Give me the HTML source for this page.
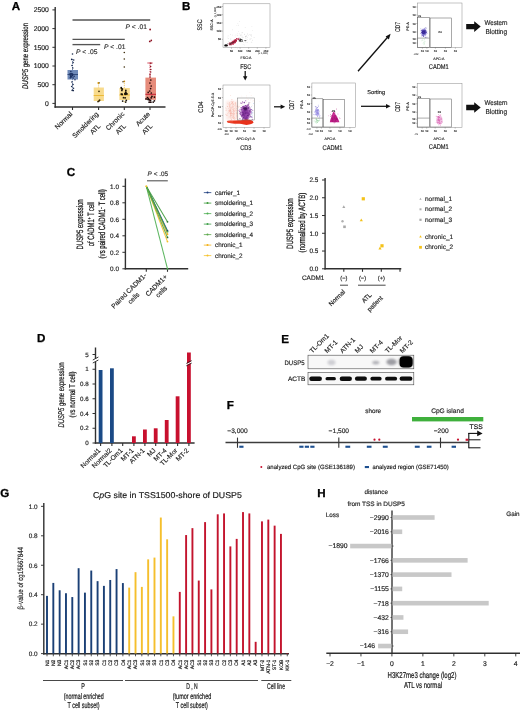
<!DOCTYPE html>
<html><head><meta charset="utf-8"><title>Figure</title>
<style>
html,body{margin:0;padding:0;background:#fff;}
body{width:520px;height:710px;overflow:hidden;font-family:"Liberation Sans",sans-serif;}
svg{display:block;font-family:"Liberation Sans",sans-serif;will-change:transform;text-rendering:geometricPrecision;}
</style></head><body>
<svg width="520" height="710" viewBox="0 0 520 710">
<defs>
<filter id="b1" x="-30%" y="-30%" width="160%" height="160%"><feGaussianBlur stdDeviation="0.55"/></filter>
<filter id="b2" x="-30%" y="-30%" width="160%" height="160%"><feGaussianBlur stdDeviation="1"/></filter>
<filter id="b3" x="-30%" y="-30%" width="160%" height="160%"><feGaussianBlur stdDeviation="0.3"/></filter>
</defs>
<rect x="0" y="0" width="520" height="710" fill="#ffffff"/>
<g id="panelA">
<text x="11.8" y="10.4" font-size="11.6" fill="#000" font-weight="bold" stroke="#000" stroke-width="0.3">A</text>
<line x1="55.2" y1="7" x2="55.2" y2="107.7" stroke="#303030" stroke-width="1.4" />
<line x1="54.5" y1="107" x2="165.5" y2="107" stroke="#303030" stroke-width="1.4" />
<line x1="52.4" y1="103.4" x2="55.2" y2="103.4" stroke="#303030" stroke-width="1.0" />
<text x="48.8" y="105.83" font-size="6.8" fill="#1b1b1b" text-anchor="end" stroke="#1b1b1b" stroke-width="0.16" >0</text>
<line x1="52.4" y1="84.7" x2="55.2" y2="84.7" stroke="#303030" stroke-width="1.0" />
<text x="48.8" y="87.13" font-size="6.8" fill="#1b1b1b" text-anchor="end" stroke="#1b1b1b" stroke-width="0.16" >500</text>
<line x1="52.4" y1="66.0" x2="55.2" y2="66.0" stroke="#303030" stroke-width="1.0" />
<text x="48.8" y="68.43" font-size="6.8" fill="#1b1b1b" text-anchor="end" stroke="#1b1b1b" stroke-width="0.16" >1000</text>
<line x1="52.4" y1="47.3" x2="55.2" y2="47.3" stroke="#303030" stroke-width="1.0" />
<text x="48.8" y="49.73" font-size="6.8" fill="#1b1b1b" text-anchor="end" stroke="#1b1b1b" stroke-width="0.16" >1500</text>
<line x1="52.4" y1="28.6" x2="55.2" y2="28.6" stroke="#303030" stroke-width="1.0" />
<text x="48.8" y="31.03" font-size="6.8" fill="#1b1b1b" text-anchor="end" stroke="#1b1b1b" stroke-width="0.16" >2000</text>
<line x1="52.4" y1="9.9" x2="55.2" y2="9.9" stroke="#303030" stroke-width="1.0" />
<text x="48.8" y="12.33" font-size="6.8" fill="#1b1b1b" text-anchor="end" stroke="#1b1b1b" stroke-width="0.16" >2500</text>
<line x1="72.5" y1="107" x2="72.5" y2="110" stroke="#303030" stroke-width="1.1" />
<line x1="98.6" y1="107" x2="98.6" y2="110" stroke="#303030" stroke-width="1.1" />
<line x1="124.3" y1="107" x2="124.3" y2="110" stroke="#303030" stroke-width="1.1" />
<line x1="150.0" y1="107" x2="150.0" y2="110" stroke="#303030" stroke-width="1.1" />
<text font-size="8.2" fill="#1a1a1a" textLength="66" lengthAdjust="spacingAndGlyphs" transform="translate(28.2,89) rotate(-90)" stroke="#1a1a1a" stroke-width="0.22"><tspan font-style="italic">DUSP5</tspan> gene expression</text>
<line x1="72.5" y1="20" x2="150.2" y2="20" stroke="#555555" stroke-width="1.35" />
<line x1="72.5" y1="39.3" x2="124.8" y2="39.3" stroke="#555555" stroke-width="1.35" />
<line x1="72.5" y1="44.6" x2="100.2" y2="44.6" stroke="#555555" stroke-width="1.35" />
<text x="76" y="54.4" font-size="6.7" fill="#303030" stroke="#303030" stroke-width="0.16" ><tspan font-style="italic">P</tspan> &lt; .05</text>
<text x="104" y="48.6" font-size="6.7" fill="#303030" stroke="#303030" stroke-width="0.16" ><tspan font-style="italic">P</tspan> &lt; .01</text>
<text x="125.5" y="29.2" font-size="6.7" fill="#303030" stroke="#303030" stroke-width="0.16" ><tspan font-style="italic">P</tspan> &lt; .01</text>
<line x1="72.5" y1="59" x2="72.5" y2="90.5" stroke="#3b5488" stroke-width="0.7" stroke-dasharray="1.2 0.8"/>
<rect x="67.5" y="70" width="10.5" height="9.5" fill="#5f7db0" opacity="0.9"/>
<line x1="67.5" y1="74.5" x2="78" y2="74.5" stroke="#2b4474" stroke-width="0.9" />
<circle cx="71.58" cy="77.00" r="0.8" fill="#1c3060" />
<circle cx="70.28" cy="77.86" r="0.8" fill="#1c3060" />
<circle cx="72.69" cy="74.20" r="0.8" fill="#1c3060" />
<circle cx="72.54" cy="75.47" r="0.8" fill="#1c3060" />
<circle cx="70.09" cy="73.90" r="0.8" fill="#1c3060" />
<circle cx="70.37" cy="75.20" r="0.8" fill="#1c3060" />
<circle cx="72.11" cy="75.42" r="0.8" fill="#1c3060" />
<circle cx="71.06" cy="73.62" r="0.8" fill="#1c3060" />
<circle cx="73.16" cy="78.03" r="0.8" fill="#1c3060" />
<circle cx="71.96" cy="73.70" r="0.8" fill="#1c3060" />
<circle cx="74.98" cy="79.72" r="0.8" fill="#1c3060" />
<circle cx="71.41" cy="76.28" r="0.8" fill="#1c3060" />
<circle cx="70.65" cy="76.45" r="0.8" fill="#1c3060" />
<circle cx="74.14" cy="76.31" r="0.8" fill="#1c3060" />
<circle cx="70.84" cy="71.57" r="0.8" fill="#1c3060" />
<circle cx="72.50" cy="54.00" r="0.8" fill="#18284a" />
<circle cx="71.70" cy="59.40" r="0.8" fill="#18284a" />
<circle cx="73.70" cy="60.00" r="0.8" fill="#18284a" />
<circle cx="73.10" cy="62.60" r="0.8" fill="#18284a" />
<circle cx="72.00" cy="65.50" r="0.8" fill="#18284a" />
<circle cx="72.80" cy="68.00" r="0.8" fill="#18284a" />
<circle cx="71.90" cy="82.00" r="0.8" fill="#18284a" />
<circle cx="73.00" cy="84.50" r="0.8" fill="#18284a" />
<circle cx="71.70" cy="86.50" r="0.8" fill="#18284a" />
<circle cx="73.50" cy="88.20" r="0.8" fill="#18284a" />
<circle cx="72.20" cy="90.40" r="0.8" fill="#18284a" />
<circle cx="73.30" cy="90.60" r="0.8" fill="#18284a" />
<line x1="98.6" y1="82.5" x2="98.6" y2="102" stroke="#e9b93a" stroke-width="0.7" stroke-dasharray="1.2 0.8"/>
<rect x="93.7" y="87.5" width="10.2" height="13.5" fill="#f8d987" opacity="0.95"/>
<line x1="93.7" y1="95.5" x2="103.9" y2="95.5" stroke="#eab52f" stroke-width="0.9" />
<circle cx="98.90" cy="82.80" r="0.85" fill="#3a2a08" />
<circle cx="99.00" cy="91.30" r="0.85" fill="#3a2a08" />
<circle cx="99.60" cy="100.20" r="0.85" fill="#3a2a08" />
<circle cx="98.00" cy="101.60" r="0.85" fill="#3a2a08" />
<circle cx="98.80" cy="101.20" r="0.85" fill="#3a2a08" />
<circle cx="98.30" cy="83.00" r="0.9" fill="#d89a10" />
<line x1="124.3" y1="81" x2="124.3" y2="102.6" stroke="#e9b93a" stroke-width="0.7" stroke-dasharray="1.2 0.8"/>
<rect x="119.4" y="88" width="10.4" height="12" fill="#f8d987" opacity="0.95"/>
<line x1="119.4" y1="95" x2="129.8" y2="95" stroke="#eab52f" stroke-width="0.9" />
<circle cx="125.15" cy="97.82" r="0.9" fill="#1a1408" />
<circle cx="122.09" cy="94.39" r="0.9" fill="#1a1408" />
<circle cx="126.92" cy="93.90" r="0.9" fill="#1a1408" />
<circle cx="125.84" cy="90.45" r="0.9" fill="#1a1408" />
<circle cx="121.88" cy="90.38" r="0.9" fill="#1a1408" />
<circle cx="126.27" cy="100.41" r="0.9" fill="#1a1408" />
<circle cx="125.65" cy="102.08" r="0.9" fill="#1a1408" />
<circle cx="122.37" cy="89.12" r="0.9" fill="#1a1408" />
<circle cx="125.30" cy="94.27" r="0.9" fill="#1a1408" />
<circle cx="121.20" cy="87.73" r="0.9" fill="#1a1408" />
<circle cx="125.78" cy="92.07" r="0.9" fill="#1a1408" />
<circle cx="126.41" cy="93.75" r="0.9" fill="#1a1408" />
<circle cx="121.24" cy="94.04" r="0.9" fill="#1a1408" />
<circle cx="123.54" cy="97.65" r="0.9" fill="#1a1408" />
<circle cx="125.64" cy="92.63" r="0.9" fill="#1a1408" />
<circle cx="124.96" cy="93.84" r="0.9" fill="#1a1408" />
<circle cx="122.11" cy="94.35" r="0.9" fill="#1a1408" />
<circle cx="121.70" cy="88.56" r="0.9" fill="#1a1408" />
<circle cx="122.67" cy="101.08" r="0.9" fill="#1a1408" />
<circle cx="125.11" cy="93.64" r="0.9" fill="#1a1408" />
<circle cx="124.30" cy="52.50" r="0.8" fill="#3a2a08" />
<circle cx="124.30" cy="59.00" r="0.8" fill="#3a2a08" />
<circle cx="124.30" cy="67.00" r="0.8" fill="#3a2a08" />
<circle cx="124.30" cy="81.30" r="0.9" fill="#c98a10" />
<circle cx="123.00" cy="81.80" r="0.7" fill="#3a2a08" />
<line x1="150" y1="62.5" x2="150" y2="102.5" stroke="#c8283c" stroke-width="0.8" stroke-dasharray="1.3 0.8"/>
<line x1="147.3" y1="63.0" x2="152.7" y2="63.0" stroke="#c8283c" stroke-width="0.8" />
<rect x="145.4" y="77.6" width="10.6" height="22.2" fill="#e58674" opacity="0.95"/>
<line x1="145.4" y1="94.3" x2="156.0" y2="94.3" stroke="#c41e34" stroke-width="1.0" />
<circle cx="150.84" cy="102.18" r="0.9" fill="#1a0808" />
<circle cx="153.21" cy="102.05" r="0.9" fill="#1a0808" />
<circle cx="148.45" cy="98.91" r="0.9" fill="#1a0808" />
<circle cx="149.16" cy="102.19" r="0.9" fill="#1a0808" />
<circle cx="154.43" cy="97.06" r="0.9" fill="#1a0808" />
<circle cx="147.55" cy="97.62" r="0.9" fill="#1a0808" />
<circle cx="148.05" cy="99.39" r="0.9" fill="#1a0808" />
<circle cx="151.18" cy="97.84" r="0.9" fill="#1a0808" />
<circle cx="146.04" cy="98.93" r="0.9" fill="#1a0808" />
<circle cx="149.25" cy="99.96" r="0.9" fill="#1a0808" />
<circle cx="154.39" cy="100.83" r="0.9" fill="#1a0808" />
<circle cx="150.54" cy="100.32" r="0.9" fill="#1a0808" />
<circle cx="151.95" cy="96.38" r="0.9" fill="#1a0808" />
<circle cx="150.80" cy="80.00" r="0.85" fill="#2a0a0a" />
<circle cx="149.90" cy="83.00" r="0.85" fill="#2a0a0a" />
<circle cx="151.20" cy="86.00" r="0.85" fill="#2a0a0a" />
<circle cx="150.60" cy="88.60" r="0.85" fill="#2a0a0a" />
<circle cx="149.70" cy="91.00" r="0.85" fill="#2a0a0a" />
<circle cx="151.30" cy="93.00" r="0.85" fill="#2a0a0a" />
<circle cx="148.20" cy="92.40" r="0.85" fill="#2a0a0a" />
<circle cx="150.84" cy="63.20" r="0.8" fill="#8c1020" />
<circle cx="150.65" cy="66.50" r="0.8" fill="#8c1020" />
<circle cx="150.80" cy="69.50" r="0.8" fill="#8c1020" />
<circle cx="150.68" cy="72.00" r="0.8" fill="#8c1020" />
<circle cx="150.03" cy="74.60" r="0.8" fill="#8c1020" />
<circle cx="150.04" cy="77.00" r="0.8" fill="#8c1020" />
<circle cx="150.10" cy="29.50" r="0.9" fill="#8c1020" />
<circle cx="149.80" cy="41.40" r="0.9" fill="#8c1020" />
<circle cx="151.30" cy="40.40" r="0.85" fill="#8c1020" />
<text font-size="6.7" fill="#1f1f1f" text-anchor="end" stroke="#1f1f1f" stroke-width="0.16" transform="translate(72.8,114.5) rotate(-45)" >Normal</text>
<text font-size="6.7" fill="#1f1f1f" text-anchor="end" stroke="#1f1f1f" stroke-width="0.16" transform="translate(99.0,114.5) rotate(-45)" >Smoldering</text>
<text font-size="6.7" fill="#1f1f1f" text-anchor="end" stroke="#1f1f1f" stroke-width="0.16" transform="translate(101.0,126.5) rotate(-45)" >ATL</text>
<text font-size="6.7" fill="#1f1f1f" text-anchor="end" stroke="#1f1f1f" stroke-width="0.16" transform="translate(124.8,114.5) rotate(-45)" >Chronic</text>
<text font-size="6.7" fill="#1f1f1f" text-anchor="end" stroke="#1f1f1f" stroke-width="0.16" transform="translate(126.5,126.5) rotate(-45)" >ATL</text>
<text font-size="6.7" fill="#1f1f1f" text-anchor="end" stroke="#1f1f1f" stroke-width="0.16" transform="translate(150.5,114.5) rotate(-45)" >Acute</text>
<text font-size="6.7" fill="#1f1f1f" text-anchor="end" stroke="#1f1f1f" stroke-width="0.16" transform="translate(153.0,126.5) rotate(-45)" >ATL</text>
</g>
<g id="panelB">
<text x="182.0" y="10.4" font-size="11.6" fill="#000" font-weight="bold" stroke="#000" stroke-width="0.3">B</text>
<rect x="223" y="3.8" width="47" height="43.7" fill="#fff" stroke="#8a8a8a" stroke-width="0.5" />
<text font-size="6.8" fill="#1b1b1b" text-anchor="middle" textLength="11" lengthAdjust="spacingAndGlyphs" stroke="#1b1b1b" stroke-width="0.16" transform="translate(202.4,25) rotate(-90)" >SSC</text>
<text font-size="3.6" fill="#111" text-anchor="middle" stroke="#111" stroke-width="0.12" transform="translate(212.6,25) rotate(-90)" >SSC-A</text>
<text font-size="2.6" fill="#666" text-anchor="middle" stroke="#666" stroke-width="0.12" transform="translate(215.8,12) rotate(-90)" >(x 1,000)</text>
<line x1="221.8" y1="6.5" x2="223" y2="6.5" stroke="#666" stroke-width="0.4" />
<text x="221.2" y="7.5" font-size="2.8" fill="#1f1f1f" text-anchor="end" stroke="#1f1f1f" stroke-width="0.12" >250</text>
<line x1="221.8" y1="14.7" x2="223" y2="14.7" stroke="#666" stroke-width="0.4" />
<text x="221.2" y="15.7" font-size="2.8" fill="#1f1f1f" text-anchor="end" stroke="#1f1f1f" stroke-width="0.12" >200</text>
<line x1="221.8" y1="22.9" x2="223" y2="22.9" stroke="#666" stroke-width="0.4" />
<text x="221.2" y="23.9" font-size="2.8" fill="#1f1f1f" text-anchor="end" stroke="#1f1f1f" stroke-width="0.12" >150</text>
<line x1="221.8" y1="31.099999999999998" x2="223" y2="31.099999999999998" stroke="#666" stroke-width="0.4" />
<text x="221.2" y="32.099999999999994" font-size="2.8" fill="#1f1f1f" text-anchor="end" stroke="#1f1f1f" stroke-width="0.12" >100</text>
<line x1="221.8" y1="39.3" x2="223" y2="39.3" stroke="#666" stroke-width="0.4" />
<text x="221.2" y="40.3" font-size="2.8" fill="#1f1f1f" text-anchor="end" stroke="#1f1f1f" stroke-width="0.12" >50</text>
<line x1="231.5" y1="47.5" x2="231.5" y2="48.7" stroke="#666" stroke-width="0.4" />
<text x="231.5" y="51.6" font-size="2.8" fill="#1f1f1f" text-anchor="middle" stroke="#1f1f1f" stroke-width="0.12" >50</text>
<line x1="240.1" y1="47.5" x2="240.1" y2="48.7" stroke="#666" stroke-width="0.4" />
<text x="240.1" y="51.6" font-size="2.8" fill="#1f1f1f" text-anchor="middle" stroke="#1f1f1f" stroke-width="0.12" >100</text>
<line x1="248.7" y1="47.5" x2="248.7" y2="48.7" stroke="#666" stroke-width="0.4" />
<text x="248.7" y="51.6" font-size="2.8" fill="#1f1f1f" text-anchor="middle" stroke="#1f1f1f" stroke-width="0.12" >150</text>
<line x1="257.3" y1="47.5" x2="257.3" y2="48.7" stroke="#666" stroke-width="0.4" />
<text x="257.3" y="51.6" font-size="2.8" fill="#1f1f1f" text-anchor="middle" stroke="#1f1f1f" stroke-width="0.12" >200</text>
<line x1="265.9" y1="47.5" x2="265.9" y2="48.7" stroke="#666" stroke-width="0.4" />
<text x="265.9" y="51.6" font-size="2.8" fill="#1f1f1f" text-anchor="middle" stroke="#1f1f1f" stroke-width="0.12" >250</text>
<text x="263" y="54.2" font-size="2.4" fill="#666" text-anchor="middle" stroke="#666" stroke-width="0.12" >(x 1,000)</text>
<g filter="url(#b3)" opacity="0.5">
<circle cx="234.40" cy="40.64" r="0.3" fill="#888" />
<circle cx="246.87" cy="36.73" r="0.3" fill="#888" />
<circle cx="241.14" cy="35.76" r="0.3" fill="#888" />
<circle cx="244.60" cy="34.12" r="0.3" fill="#888" />
<circle cx="242.22" cy="37.86" r="0.3" fill="#888" />
<circle cx="240.01" cy="38.82" r="0.3" fill="#888" />
<circle cx="244.53" cy="45.05" r="0.3" fill="#888" />
<circle cx="242.60" cy="32.86" r="0.3" fill="#888" />
<circle cx="237.02" cy="34.93" r="0.3" fill="#888" />
<circle cx="247.39" cy="33.32" r="0.3" fill="#888" />
<circle cx="243.09" cy="44.19" r="0.3" fill="#888" />
<circle cx="219.48" cy="29.38" r="0.3" fill="#888" />
<circle cx="241.95" cy="36.99" r="0.3" fill="#888" />
<circle cx="241.91" cy="32.84" r="0.3" fill="#888" />
<circle cx="245.24" cy="36.41" r="0.3" fill="#888" />
<circle cx="235.82" cy="47.15" r="0.3" fill="#888" />
<circle cx="242.84" cy="32.23" r="0.3" fill="#888" />
<circle cx="239.20" cy="33.87" r="0.3" fill="#888" />
<circle cx="239.50" cy="21.36" r="0.3" fill="#888" />
<circle cx="236.10" cy="40.04" r="0.3" fill="#888" />
<circle cx="230.65" cy="34.67" r="0.3" fill="#888" />
<circle cx="247.63" cy="39.28" r="0.3" fill="#888" />
<circle cx="251.93" cy="26.49" r="0.3" fill="#888" />
<circle cx="237.17" cy="33.30" r="0.3" fill="#888" />
<circle cx="244.99" cy="40.46" r="0.3" fill="#888" />
<circle cx="218.54" cy="40.44" r="0.3" fill="#888" />
<circle cx="228.42" cy="38.42" r="0.3" fill="#888" />
<circle cx="228.06" cy="35.88" r="0.3" fill="#888" />
<circle cx="249.56" cy="34.25" r="0.3" fill="#888" />
<circle cx="241.53" cy="38.99" r="0.3" fill="#888" />
<circle cx="241.13" cy="34.56" r="0.3" fill="#888" />
<circle cx="252.27" cy="40.24" r="0.3" fill="#888" />
<circle cx="237.65" cy="48.73" r="0.3" fill="#888" />
<circle cx="230.83" cy="39.57" r="0.3" fill="#888" />
<circle cx="237.87" cy="35.66" r="0.3" fill="#888" />
<circle cx="245.64" cy="36.11" r="0.3" fill="#888" />
<circle cx="245.11" cy="27.36" r="0.3" fill="#888" />
<circle cx="227.92" cy="38.07" r="0.3" fill="#888" />
<circle cx="232.29" cy="29.87" r="0.3" fill="#888" />
<circle cx="228.24" cy="41.33" r="0.3" fill="#888" />
<circle cx="245.97" cy="42.37" r="0.3" fill="#888" />
<circle cx="232.50" cy="35.01" r="0.3" fill="#888" />
<circle cx="230.88" cy="38.83" r="0.3" fill="#888" />
<circle cx="252.72" cy="30.55" r="0.3" fill="#888" />
<circle cx="252.48" cy="39.94" r="0.3" fill="#888" />
<circle cx="238.58" cy="25.14" r="0.3" fill="#888" />
<circle cx="251.25" cy="34.52" r="0.3" fill="#888" />
<circle cx="235.18" cy="37.00" r="0.3" fill="#888" />
<circle cx="243.28" cy="42.49" r="0.3" fill="#888" />
<circle cx="231.84" cy="40.68" r="0.3" fill="#888" />
<circle cx="251.90" cy="42.26" r="0.3" fill="#888" />
<circle cx="238.56" cy="31.28" r="0.3" fill="#888" />
<circle cx="248.15" cy="35.58" r="0.3" fill="#888" />
<circle cx="240.99" cy="42.12" r="0.3" fill="#888" />
<circle cx="237.89" cy="23.52" r="0.3" fill="#888" />
<circle cx="236.90" cy="25.73" r="0.3" fill="#888" />
<circle cx="246.55" cy="36.59" r="0.3" fill="#888" />
<circle cx="235.11" cy="34.95" r="0.3" fill="#888" />
<circle cx="246.66" cy="35.39" r="0.3" fill="#888" />
<circle cx="250.61" cy="34.69" r="0.3" fill="#888" />
</g>
<g filter="url(#b3)" opacity="0.5">
<circle cx="251.20" cy="41.98" r="0.3" fill="#777" />
<circle cx="254.05" cy="37.66" r="0.3" fill="#777" />
<circle cx="250.40" cy="35.25" r="0.3" fill="#777" />
<circle cx="240.58" cy="35.07" r="0.3" fill="#777" />
<circle cx="251.34" cy="36.54" r="0.3" fill="#777" />
<circle cx="245.94" cy="38.62" r="0.3" fill="#777" />
<circle cx="245.86" cy="37.82" r="0.3" fill="#777" />
<circle cx="247.17" cy="42.58" r="0.3" fill="#777" />
<circle cx="246.22" cy="40.06" r="0.3" fill="#777" />
<circle cx="251.00" cy="38.60" r="0.3" fill="#777" />
<circle cx="239.70" cy="37.89" r="0.3" fill="#777" />
<circle cx="251.37" cy="35.71" r="0.3" fill="#777" />
<circle cx="243.01" cy="41.01" r="0.3" fill="#777" />
<circle cx="249.96" cy="39.02" r="0.3" fill="#777" />
<circle cx="250.03" cy="39.33" r="0.3" fill="#777" />
<circle cx="240.11" cy="35.87" r="0.3" fill="#777" />
<circle cx="242.81" cy="40.85" r="0.3" fill="#777" />
<circle cx="243.17" cy="37.20" r="0.3" fill="#777" />
<circle cx="242.15" cy="35.94" r="0.3" fill="#777" />
<circle cx="245.41" cy="36.64" r="0.3" fill="#777" />
<circle cx="247.82" cy="34.28" r="0.3" fill="#777" />
<circle cx="247.64" cy="37.72" r="0.3" fill="#777" />
<circle cx="236.29" cy="40.45" r="0.3" fill="#777" />
<circle cx="244.62" cy="34.54" r="0.3" fill="#777" />
<circle cx="241.62" cy="39.58" r="0.3" fill="#777" />
</g>
<g filter="url(#b3)">
<circle cx="233.30" cy="42.92" r="0.5" fill="#b0183c" />
<circle cx="235.40" cy="41.87" r="0.5" fill="#b0183c" />
<circle cx="235.46" cy="39.48" r="0.5" fill="#b0183c" />
<circle cx="236.47" cy="40.43" r="0.5" fill="#b0183c" />
<circle cx="233.98" cy="41.18" r="0.5" fill="#b0183c" />
<circle cx="236.24" cy="40.54" r="0.5" fill="#b0183c" />
<circle cx="236.38" cy="40.82" r="0.5" fill="#b0183c" />
<circle cx="235.52" cy="40.44" r="0.5" fill="#b0183c" />
<circle cx="233.79" cy="42.49" r="0.5" fill="#b0183c" />
<circle cx="233.61" cy="41.13" r="0.5" fill="#b0183c" />
<circle cx="233.58" cy="42.34" r="0.5" fill="#b0183c" />
<circle cx="231.50" cy="44.78" r="0.5" fill="#b0183c" />
<circle cx="236.58" cy="38.50" r="0.5" fill="#b0183c" />
<circle cx="235.39" cy="42.17" r="0.5" fill="#b0183c" />
<circle cx="234.66" cy="41.61" r="0.5" fill="#b0183c" />
<circle cx="230.34" cy="44.55" r="0.5" fill="#b0183c" />
<circle cx="233.12" cy="43.98" r="0.5" fill="#b0183c" />
<circle cx="230.46" cy="43.83" r="0.5" fill="#b0183c" />
<circle cx="233.95" cy="40.88" r="0.5" fill="#b0183c" />
<circle cx="238.88" cy="38.21" r="0.5" fill="#b0183c" />
<circle cx="232.00" cy="44.24" r="0.5" fill="#b0183c" />
<circle cx="238.11" cy="38.82" r="0.5" fill="#b0183c" />
<circle cx="233.05" cy="40.94" r="0.5" fill="#b0183c" />
<circle cx="233.99" cy="41.37" r="0.5" fill="#b0183c" />
<circle cx="233.81" cy="42.23" r="0.5" fill="#b0183c" />
<circle cx="235.27" cy="40.74" r="0.5" fill="#b0183c" />
<circle cx="235.49" cy="40.20" r="0.5" fill="#b0183c" />
<circle cx="232.49" cy="42.54" r="0.5" fill="#b0183c" />
<circle cx="234.13" cy="41.72" r="0.5" fill="#b0183c" />
<circle cx="232.76" cy="42.27" r="0.5" fill="#b0183c" />
<circle cx="236.27" cy="40.30" r="0.5" fill="#b0183c" />
<circle cx="234.16" cy="39.89" r="0.5" fill="#b0183c" />
<circle cx="233.37" cy="42.24" r="0.5" fill="#b0183c" />
<circle cx="229.95" cy="42.48" r="0.5" fill="#b0183c" />
<circle cx="236.88" cy="38.79" r="0.5" fill="#b0183c" />
<circle cx="232.51" cy="43.14" r="0.5" fill="#b0183c" />
<circle cx="235.06" cy="42.06" r="0.5" fill="#b0183c" />
<circle cx="234.11" cy="42.99" r="0.5" fill="#b0183c" />
<circle cx="236.45" cy="39.78" r="0.5" fill="#b0183c" />
<circle cx="233.93" cy="41.79" r="0.5" fill="#b0183c" />
<circle cx="236.40" cy="41.05" r="0.5" fill="#b0183c" />
<circle cx="234.88" cy="42.94" r="0.5" fill="#b0183c" />
<circle cx="233.40" cy="43.90" r="0.5" fill="#b0183c" />
<circle cx="233.60" cy="42.93" r="0.5" fill="#b0183c" />
<circle cx="233.11" cy="41.92" r="0.5" fill="#b0183c" />
<circle cx="235.23" cy="41.88" r="0.5" fill="#b0183c" />
<circle cx="234.36" cy="42.15" r="0.5" fill="#b0183c" />
<circle cx="234.27" cy="41.36" r="0.5" fill="#b0183c" />
<circle cx="234.61" cy="40.47" r="0.5" fill="#b0183c" />
<circle cx="232.93" cy="41.49" r="0.5" fill="#b0183c" />
<circle cx="229.17" cy="44.81" r="0.5" fill="#b0183c" />
<circle cx="234.96" cy="40.90" r="0.5" fill="#b0183c" />
<circle cx="231.92" cy="44.00" r="0.5" fill="#b0183c" />
<circle cx="235.57" cy="40.25" r="0.5" fill="#b0183c" />
<circle cx="230.45" cy="44.82" r="0.5" fill="#b0183c" />
<circle cx="229.78" cy="44.71" r="0.5" fill="#b0183c" />
<circle cx="229.00" cy="43.35" r="0.5" fill="#b0183c" />
<circle cx="231.64" cy="42.64" r="0.5" fill="#b0183c" />
<circle cx="234.70" cy="41.97" r="0.5" fill="#b0183c" />
<circle cx="237.65" cy="38.93" r="0.5" fill="#b0183c" />
<circle cx="232.10" cy="41.70" r="0.5" fill="#b0183c" />
<circle cx="233.63" cy="42.25" r="0.5" fill="#b0183c" />
<circle cx="229.72" cy="43.85" r="0.5" fill="#b0183c" />
<circle cx="233.19" cy="42.02" r="0.5" fill="#b0183c" />
<circle cx="232.63" cy="43.04" r="0.5" fill="#b0183c" />
<circle cx="233.21" cy="41.79" r="0.5" fill="#b0183c" />
<circle cx="227.50" cy="45.36" r="0.5" fill="#b0183c" />
<circle cx="230.76" cy="43.86" r="0.5" fill="#b0183c" />
<circle cx="230.76" cy="43.37" r="0.5" fill="#b0183c" />
<circle cx="235.13" cy="41.18" r="0.5" fill="#b0183c" />
<circle cx="231.93" cy="42.86" r="0.5" fill="#b0183c" />
<circle cx="235.52" cy="40.34" r="0.5" fill="#b0183c" />
<circle cx="230.73" cy="43.04" r="0.5" fill="#b0183c" />
<circle cx="231.40" cy="42.90" r="0.5" fill="#b0183c" />
<circle cx="234.34" cy="41.37" r="0.5" fill="#b0183c" />
<circle cx="238.49" cy="39.55" r="0.5" fill="#b0183c" />
<circle cx="234.73" cy="39.98" r="0.5" fill="#b0183c" />
<circle cx="232.37" cy="43.20" r="0.5" fill="#b0183c" />
<circle cx="238.90" cy="39.66" r="0.5" fill="#b0183c" />
<circle cx="235.98" cy="41.16" r="0.5" fill="#b0183c" />
<circle cx="240.14" cy="40.51" r="0.45" fill="#222" />
<circle cx="239.22" cy="41.05" r="0.45" fill="#222" />
<circle cx="239.28" cy="40.30" r="0.45" fill="#222" />
<circle cx="242.42" cy="39.92" r="0.45" fill="#222" />
<circle cx="240.32" cy="41.03" r="0.45" fill="#222" />
<circle cx="240.33" cy="39.45" r="0.45" fill="#222" />
<circle cx="240.56" cy="40.57" r="0.45" fill="#222" />
<circle cx="241.01" cy="39.48" r="0.45" fill="#222" />
<circle cx="242.05" cy="41.43" r="0.45" fill="#222" />
<circle cx="240.32" cy="40.31" r="0.45" fill="#222" />
<circle cx="239.87" cy="41.23" r="0.45" fill="#222" />
<circle cx="239.60" cy="40.64" r="0.45" fill="#222" />
<circle cx="239.82" cy="39.54" r="0.45" fill="#222" />
<circle cx="241.02" cy="41.17" r="0.45" fill="#222" />
<circle cx="240.29" cy="39.56" r="0.45" fill="#222" />
<circle cx="241.11" cy="40.06" r="0.45" fill="#222" />
<circle cx="240.61" cy="41.32" r="0.45" fill="#222" />
<circle cx="241.43" cy="39.68" r="0.45" fill="#222" />
<circle cx="242.58" cy="40.10" r="0.45" fill="#222" />
<circle cx="241.09" cy="39.58" r="0.45" fill="#222" />
<circle cx="240.26" cy="38.70" r="0.45" fill="#222" />
<circle cx="242.09" cy="41.19" r="0.45" fill="#222" />
<circle cx="227.67" cy="43.86" r="0.4" fill="#333" />
<circle cx="233.08" cy="42.17" r="0.4" fill="#333" />
<circle cx="230.30" cy="43.19" r="0.4" fill="#333" />
<circle cx="230.19" cy="43.43" r="0.4" fill="#333" />
<circle cx="231.90" cy="43.02" r="0.4" fill="#333" />
<circle cx="229.29" cy="44.20" r="0.4" fill="#333" />
<circle cx="234.59" cy="41.71" r="0.4" fill="#333" />
<circle cx="229.64" cy="43.46" r="0.4" fill="#333" />
<circle cx="230.47" cy="44.20" r="0.4" fill="#333" />
<circle cx="233.40" cy="42.45" r="0.4" fill="#333" />
<circle cx="232.70" cy="42.37" r="0.4" fill="#333" />
<circle cx="230.06" cy="44.17" r="0.4" fill="#333" />
<circle cx="231.67" cy="43.27" r="0.4" fill="#333" />
<circle cx="231.57" cy="42.31" r="0.4" fill="#333" />
</g>
<ellipse cx="226.0" cy="45.4" rx="1.7" ry="1.2" fill="#111" filter="url(#b3)"/>
<ellipse cx="245.3" cy="40.6" rx="1.2" ry="0.6" fill="#444" filter="url(#b3)" opacity="0.8"/>
<text x="246" y="59.4" font-size="3.6" fill="#111" text-anchor="middle" stroke="#111" stroke-width="0.12" >FSC-A</text>
<text x="245.8" y="68.73" font-size="6.8" fill="#1b1b1b" text-anchor="middle" textLength="11.2" lengthAdjust="spacingAndGlyphs" stroke="#1b1b1b" stroke-width="0.16" >FSC</text>
<line x1="245.2" y1="71" x2="245.2" y2="78" stroke="#111" stroke-width="1.25" />
<path d="M243 76.2 L245.2 80.6 L247.4 76.2 Z" fill="#111"/>
<rect x="223" y="85" width="47" height="42.5" fill="#fff" stroke="#8a8a8a" stroke-width="0.5" />
<text font-size="6.8" fill="#1b1b1b" text-anchor="middle" textLength="11.6" lengthAdjust="spacingAndGlyphs" stroke="#1b1b1b" stroke-width="0.16" transform="translate(203.3,107) rotate(-90)" >CD4</text>
<text font-size="3.5" fill="#111" text-anchor="middle" stroke="#111" stroke-width="0.12" transform="translate(214.3,105) rotate(-90)" >PerCP-Cy5-5-A</text>
<line x1="221.8" y1="88.5" x2="223" y2="88.5" stroke="#666" stroke-width="0.4" />
<text x="221.2" y="89.5" font-size="2.8" fill="#1f1f1f" text-anchor="end" stroke="#1f1f1f" stroke-width="0.12" >10</text>
<line x1="221.8" y1="97.5" x2="223" y2="97.5" stroke="#666" stroke-width="0.4" />
<text x="221.2" y="98.5" font-size="2.8" fill="#1f1f1f" text-anchor="end" stroke="#1f1f1f" stroke-width="0.12" >10</text>
<line x1="221.8" y1="106.5" x2="223" y2="106.5" stroke="#666" stroke-width="0.4" />
<text x="221.2" y="107.5" font-size="2.8" fill="#1f1f1f" text-anchor="end" stroke="#1f1f1f" stroke-width="0.12" >10</text>
<line x1="221.8" y1="115.5" x2="223" y2="115.5" stroke="#666" stroke-width="0.4" />
<text x="221.2" y="116.5" font-size="2.8" fill="#1f1f1f" text-anchor="end" stroke="#1f1f1f" stroke-width="0.12" >10</text>
<line x1="221.8" y1="123" x2="223" y2="123" stroke="#666" stroke-width="0.4" />
<text x="221.2" y="124" font-size="2.8" fill="#1f1f1f" text-anchor="end" stroke="#1f1f1f" stroke-width="0.12" >10</text>
<line x1="226" y1="127.5" x2="226" y2="128.7" stroke="#666" stroke-width="0.4" />
<text x="226" y="131.6" font-size="2.8" fill="#1f1f1f" text-anchor="middle" stroke="#1f1f1f" stroke-width="0.12" >10</text>
<line x1="231" y1="127.5" x2="231" y2="128.7" stroke="#666" stroke-width="0.4" />
<text x="231" y="131.6" font-size="2.8" fill="#1f1f1f" text-anchor="middle" stroke="#1f1f1f" stroke-width="0.12" >10</text>
<line x1="236" y1="127.5" x2="236" y2="128.7" stroke="#666" stroke-width="0.4" />
<text x="236" y="131.6" font-size="2.8" fill="#1f1f1f" text-anchor="middle" stroke="#1f1f1f" stroke-width="0.12" >10</text>
<line x1="244.5" y1="127.5" x2="244.5" y2="128.7" stroke="#666" stroke-width="0.4" />
<text x="244.5" y="131.6" font-size="2.8" fill="#1f1f1f" text-anchor="middle" stroke="#1f1f1f" stroke-width="0.12" >10</text>
<line x1="254" y1="127.5" x2="254" y2="128.7" stroke="#666" stroke-width="0.4" />
<text x="254" y="131.6" font-size="2.8" fill="#1f1f1f" text-anchor="middle" stroke="#1f1f1f" stroke-width="0.12" >10</text>
<line x1="264" y1="127.5" x2="264" y2="128.7" stroke="#666" stroke-width="0.4" />
<text x="264" y="131.6" font-size="2.8" fill="#1f1f1f" text-anchor="middle" stroke="#1f1f1f" stroke-width="0.12" >10</text>
<text x="222" y="130.2" font-size="2.5" fill="#555" text-anchor="end" stroke="#555" stroke-width="0.12" >-205</text>
<text x="226.5" y="134.6" font-size="2.5" fill="#555" text-anchor="middle" stroke="#555" stroke-width="0.12" >-251</text>
<rect x="226" y="101" width="12" height="19" fill="#f9c9bf" opacity="0.35" filter="url(#b2)"/>
<g filter="url(#b3)" opacity="0.55">
<circle cx="229.34" cy="110.49" r="0.35" fill="#ee7a66" />
<circle cx="228.90" cy="104.23" r="0.35" fill="#ee7a66" />
<circle cx="233.88" cy="106.60" r="0.35" fill="#ee7a66" />
<circle cx="233.90" cy="114.97" r="0.35" fill="#ee7a66" />
<circle cx="232.92" cy="113.55" r="0.35" fill="#ee7a66" />
<circle cx="231.69" cy="102.05" r="0.35" fill="#ee7a66" />
<circle cx="231.91" cy="113.23" r="0.35" fill="#ee7a66" />
<circle cx="230.41" cy="109.90" r="0.35" fill="#ee7a66" />
<circle cx="234.25" cy="105.23" r="0.35" fill="#ee7a66" />
<circle cx="233.92" cy="121.68" r="0.35" fill="#ee7a66" />
<circle cx="230.34" cy="111.38" r="0.35" fill="#ee7a66" />
<circle cx="231.55" cy="119.74" r="0.35" fill="#ee7a66" />
<circle cx="232.95" cy="115.89" r="0.35" fill="#ee7a66" />
<circle cx="229.93" cy="110.40" r="0.35" fill="#ee7a66" />
<circle cx="231.97" cy="99.84" r="0.35" fill="#ee7a66" />
<circle cx="236.32" cy="115.90" r="0.35" fill="#ee7a66" />
<circle cx="226.75" cy="114.97" r="0.35" fill="#ee7a66" />
<circle cx="231.61" cy="113.19" r="0.35" fill="#ee7a66" />
<circle cx="233.10" cy="101.51" r="0.35" fill="#ee7a66" />
<circle cx="231.36" cy="119.46" r="0.35" fill="#ee7a66" />
<circle cx="230.28" cy="104.36" r="0.35" fill="#ee7a66" />
<circle cx="227.92" cy="103.17" r="0.35" fill="#ee7a66" />
<circle cx="233.01" cy="120.66" r="0.35" fill="#ee7a66" />
<circle cx="233.29" cy="111.97" r="0.35" fill="#ee7a66" />
<circle cx="238.70" cy="107.38" r="0.35" fill="#ee7a66" />
<circle cx="229.98" cy="113.67" r="0.35" fill="#ee7a66" />
<circle cx="233.65" cy="104.41" r="0.35" fill="#ee7a66" />
<circle cx="228.49" cy="112.25" r="0.35" fill="#ee7a66" />
<circle cx="232.74" cy="102.66" r="0.35" fill="#ee7a66" />
<circle cx="231.39" cy="107.24" r="0.35" fill="#ee7a66" />
<circle cx="233.38" cy="109.80" r="0.35" fill="#ee7a66" />
<circle cx="231.74" cy="108.38" r="0.35" fill="#ee7a66" />
<circle cx="235.16" cy="118.84" r="0.35" fill="#ee7a66" />
<circle cx="230.90" cy="115.58" r="0.35" fill="#ee7a66" />
<circle cx="229.73" cy="110.93" r="0.35" fill="#ee7a66" />
<circle cx="234.25" cy="119.59" r="0.35" fill="#ee7a66" />
<circle cx="230.85" cy="110.06" r="0.35" fill="#ee7a66" />
<circle cx="232.59" cy="101.51" r="0.35" fill="#ee7a66" />
<circle cx="232.05" cy="106.44" r="0.35" fill="#ee7a66" />
<circle cx="233.11" cy="103.72" r="0.35" fill="#ee7a66" />
<circle cx="226.07" cy="110.73" r="0.35" fill="#ee7a66" />
<circle cx="232.78" cy="107.21" r="0.35" fill="#ee7a66" />
<circle cx="234.67" cy="108.86" r="0.35" fill="#ee7a66" />
<circle cx="230.18" cy="113.37" r="0.35" fill="#ee7a66" />
<circle cx="227.30" cy="106.44" r="0.35" fill="#ee7a66" />
<circle cx="231.94" cy="115.59" r="0.35" fill="#ee7a66" />
<circle cx="231.51" cy="112.35" r="0.35" fill="#ee7a66" />
<circle cx="230.03" cy="112.31" r="0.35" fill="#ee7a66" />
<circle cx="236.99" cy="106.38" r="0.35" fill="#ee7a66" />
<circle cx="239.10" cy="106.64" r="0.35" fill="#ee7a66" />
<circle cx="232.05" cy="111.54" r="0.35" fill="#ee7a66" />
<circle cx="235.07" cy="103.08" r="0.35" fill="#ee7a66" />
<circle cx="225.70" cy="114.14" r="0.35" fill="#ee7a66" />
<circle cx="234.39" cy="114.24" r="0.35" fill="#ee7a66" />
<circle cx="239.89" cy="111.73" r="0.35" fill="#ee7a66" />
<circle cx="232.76" cy="116.08" r="0.35" fill="#ee7a66" />
<circle cx="233.11" cy="120.48" r="0.35" fill="#ee7a66" />
<circle cx="228.29" cy="108.25" r="0.35" fill="#ee7a66" />
<circle cx="221.67" cy="115.37" r="0.35" fill="#ee7a66" />
<circle cx="230.88" cy="116.04" r="0.35" fill="#ee7a66" />
<circle cx="238.46" cy="110.46" r="0.35" fill="#ee7a66" />
<circle cx="231.24" cy="107.50" r="0.35" fill="#ee7a66" />
<circle cx="229.49" cy="106.72" r="0.35" fill="#ee7a66" />
<circle cx="233.92" cy="110.72" r="0.35" fill="#ee7a66" />
<circle cx="232.20" cy="109.46" r="0.35" fill="#ee7a66" />
<circle cx="234.74" cy="113.46" r="0.35" fill="#ee7a66" />
<circle cx="231.57" cy="114.49" r="0.35" fill="#ee7a66" />
<circle cx="231.54" cy="103.58" r="0.35" fill="#ee7a66" />
<circle cx="236.37" cy="113.29" r="0.35" fill="#ee7a66" />
<circle cx="229.13" cy="116.97" r="0.35" fill="#ee7a66" />
<circle cx="233.03" cy="101.11" r="0.35" fill="#ee7a66" />
<circle cx="236.83" cy="112.50" r="0.35" fill="#ee7a66" />
<circle cx="234.67" cy="111.69" r="0.35" fill="#ee7a66" />
<circle cx="231.55" cy="101.21" r="0.35" fill="#ee7a66" />
<circle cx="234.91" cy="110.68" r="0.35" fill="#ee7a66" />
<circle cx="231.14" cy="112.61" r="0.35" fill="#ee7a66" />
<circle cx="232.23" cy="114.55" r="0.35" fill="#ee7a66" />
<circle cx="230.89" cy="110.28" r="0.35" fill="#ee7a66" />
<circle cx="225.58" cy="107.96" r="0.35" fill="#ee7a66" />
<circle cx="234.03" cy="118.52" r="0.35" fill="#ee7a66" />
<circle cx="230.91" cy="109.77" r="0.35" fill="#ee7a66" />
<circle cx="236.75" cy="108.55" r="0.35" fill="#ee7a66" />
<circle cx="234.20" cy="120.57" r="0.35" fill="#ee7a66" />
<circle cx="232.12" cy="117.86" r="0.35" fill="#ee7a66" />
<circle cx="229.87" cy="111.75" r="0.35" fill="#ee7a66" />
<circle cx="231.77" cy="111.19" r="0.35" fill="#ee7a66" />
<circle cx="235.39" cy="124.84" r="0.35" fill="#ee7a66" />
<circle cx="230.00" cy="107.05" r="0.35" fill="#ee7a66" />
<circle cx="233.49" cy="104.17" r="0.35" fill="#ee7a66" />
<circle cx="233.49" cy="113.93" r="0.35" fill="#ee7a66" />
<circle cx="231.17" cy="113.69" r="0.35" fill="#ee7a66" />
<circle cx="227.35" cy="115.06" r="0.35" fill="#ee7a66" />
<circle cx="227.37" cy="106.32" r="0.35" fill="#ee7a66" />
<circle cx="230.33" cy="108.09" r="0.35" fill="#ee7a66" />
<circle cx="234.58" cy="110.99" r="0.35" fill="#ee7a66" />
<circle cx="230.81" cy="113.76" r="0.35" fill="#ee7a66" />
<circle cx="236.74" cy="110.54" r="0.35" fill="#ee7a66" />
<circle cx="233.10" cy="117.94" r="0.35" fill="#ee7a66" />
<circle cx="232.80" cy="102.80" r="0.35" fill="#ee7a66" />
<circle cx="239.47" cy="123.75" r="0.35" fill="#ee7a66" />
<circle cx="226.05" cy="110.27" r="0.35" fill="#ee7a66" />
<circle cx="233.25" cy="116.29" r="0.35" fill="#ee7a66" />
<circle cx="234.01" cy="108.87" r="0.35" fill="#ee7a66" />
<circle cx="228.84" cy="111.12" r="0.35" fill="#ee7a66" />
<circle cx="235.10" cy="103.96" r="0.35" fill="#ee7a66" />
<circle cx="228.92" cy="110.35" r="0.35" fill="#ee7a66" />
<circle cx="226.19" cy="108.94" r="0.35" fill="#ee7a66" />
<circle cx="230.69" cy="113.20" r="0.35" fill="#ee7a66" />
<circle cx="229.89" cy="105.21" r="0.35" fill="#ee7a66" />
<circle cx="230.82" cy="110.20" r="0.35" fill="#ee7a66" />
<circle cx="230.01" cy="110.57" r="0.35" fill="#ee7a66" />
<circle cx="234.25" cy="117.61" r="0.35" fill="#ee7a66" />
<circle cx="237.11" cy="105.80" r="0.35" fill="#ee7a66" />
<circle cx="230.74" cy="95.60" r="0.35" fill="#ee7a66" />
<circle cx="237.70" cy="106.15" r="0.35" fill="#ee7a66" />
<circle cx="231.90" cy="113.64" r="0.35" fill="#ee7a66" />
<circle cx="227.92" cy="113.28" r="0.35" fill="#ee7a66" />
<circle cx="231.92" cy="99.54" r="0.35" fill="#ee7a66" />
<circle cx="232.88" cy="117.67" r="0.35" fill="#ee7a66" />
<circle cx="226.40" cy="115.34" r="0.35" fill="#ee7a66" />
<circle cx="232.63" cy="113.35" r="0.35" fill="#ee7a66" />
<circle cx="233.32" cy="118.32" r="0.35" fill="#ee7a66" />
<circle cx="231.33" cy="115.74" r="0.35" fill="#ee7a66" />
<circle cx="230.77" cy="114.87" r="0.35" fill="#ee7a66" />
<circle cx="229.56" cy="109.85" r="0.35" fill="#ee7a66" />
<circle cx="237.19" cy="113.17" r="0.35" fill="#ee7a66" />
<circle cx="231.53" cy="103.63" r="0.35" fill="#ee7a66" />
<circle cx="229.63" cy="111.66" r="0.35" fill="#ee7a66" />
<circle cx="234.82" cy="113.06" r="0.35" fill="#ee7a66" />
<circle cx="233.57" cy="110.25" r="0.35" fill="#ee7a66" />
</g>
<g filter="url(#b3)" opacity="0.55">
<circle cx="254.11" cy="102.05" r="0.3" fill="#f3a89a" />
<circle cx="242.70" cy="108.44" r="0.3" fill="#f3a89a" />
<circle cx="246.38" cy="102.61" r="0.3" fill="#f3a89a" />
<circle cx="242.54" cy="102.72" r="0.3" fill="#f3a89a" />
<circle cx="249.74" cy="105.77" r="0.3" fill="#f3a89a" />
<circle cx="238.74" cy="106.13" r="0.3" fill="#f3a89a" />
<circle cx="247.07" cy="99.00" r="0.3" fill="#f3a89a" />
<circle cx="250.64" cy="102.60" r="0.3" fill="#f3a89a" />
<circle cx="243.99" cy="107.98" r="0.3" fill="#f3a89a" />
<circle cx="253.92" cy="100.56" r="0.3" fill="#f3a89a" />
<circle cx="248.63" cy="99.62" r="0.3" fill="#f3a89a" />
<circle cx="259.89" cy="101.53" r="0.3" fill="#f3a89a" />
<circle cx="253.17" cy="100.76" r="0.3" fill="#f3a89a" />
<circle cx="250.87" cy="115.09" r="0.3" fill="#f3a89a" />
<circle cx="230.75" cy="101.83" r="0.3" fill="#f3a89a" />
<circle cx="249.00" cy="103.54" r="0.3" fill="#f3a89a" />
<circle cx="241.99" cy="114.76" r="0.3" fill="#f3a89a" />
<circle cx="246.48" cy="95.78" r="0.3" fill="#f3a89a" />
<circle cx="251.12" cy="95.39" r="0.3" fill="#f3a89a" />
<circle cx="252.91" cy="101.11" r="0.3" fill="#f3a89a" />
<circle cx="246.87" cy="110.30" r="0.3" fill="#f3a89a" />
<circle cx="246.71" cy="97.04" r="0.3" fill="#f3a89a" />
<circle cx="235.82" cy="109.91" r="0.3" fill="#f3a89a" />
<circle cx="250.44" cy="99.92" r="0.3" fill="#f3a89a" />
<circle cx="251.16" cy="106.48" r="0.3" fill="#f3a89a" />
<circle cx="249.89" cy="92.71" r="0.3" fill="#f3a89a" />
<circle cx="244.19" cy="108.50" r="0.3" fill="#f3a89a" />
<circle cx="250.40" cy="108.41" r="0.3" fill="#f3a89a" />
<circle cx="231.26" cy="104.85" r="0.3" fill="#f3a89a" />
<circle cx="248.95" cy="116.76" r="0.3" fill="#f3a89a" />
<circle cx="240.28" cy="102.35" r="0.3" fill="#f3a89a" />
<circle cx="246.22" cy="108.43" r="0.3" fill="#f3a89a" />
<circle cx="243.34" cy="109.74" r="0.3" fill="#f3a89a" />
<circle cx="241.27" cy="105.33" r="0.3" fill="#f3a89a" />
<circle cx="242.84" cy="104.79" r="0.3" fill="#f3a89a" />
<circle cx="241.86" cy="96.01" r="0.3" fill="#f3a89a" />
<circle cx="252.56" cy="105.52" r="0.3" fill="#f3a89a" />
<circle cx="242.65" cy="105.00" r="0.3" fill="#f3a89a" />
<circle cx="251.94" cy="99.11" r="0.3" fill="#f3a89a" />
<circle cx="245.34" cy="106.70" r="0.3" fill="#f3a89a" />
</g>
<line x1="229.5" y1="102" x2="231.0" y2="119" stroke="#f09a8a" stroke-width="0.5" opacity="0.6" filter="url(#b3)"/>
<line x1="232.5" y1="102" x2="234.0" y2="119" stroke="#f09a8a" stroke-width="0.5" opacity="0.6" filter="url(#b3)"/>
<line x1="235.5" y1="102" x2="237.0" y2="119" stroke="#f09a8a" stroke-width="0.5" opacity="0.6" filter="url(#b3)"/>
<g filter="url(#b1)">
<ellipse cx="245.6" cy="112.6" rx="5.4" ry="7.6" fill="#9a4ab0" opacity="0.55"/>
<ellipse cx="245.6" cy="114" rx="3.6" ry="5.2" fill="#742a90" opacity="0.8"/>
</g>
<g filter="url(#b3)" opacity="0.85">
<circle cx="247.02" cy="110.72" r="0.5" fill="#7a2a92" />
<circle cx="239.91" cy="118.51" r="0.5" fill="#7a2a92" />
<circle cx="242.14" cy="110.28" r="0.5" fill="#9a4ab0" />
<circle cx="243.52" cy="107.69" r="0.5" fill="#5e1f7c" />
<circle cx="243.60" cy="109.96" r="0.5" fill="#8a3aa2" />
<circle cx="243.73" cy="106.44" r="0.5" fill="#9a4ab0" />
<circle cx="247.38" cy="109.44" r="0.5" fill="#7a2a92" />
<circle cx="245.56" cy="108.46" r="0.5" fill="#8a3aa2" />
<circle cx="243.47" cy="106.43" r="0.5" fill="#9a4ab0" />
<circle cx="246.83" cy="116.35" r="0.5" fill="#9a4ab0" />
<circle cx="241.39" cy="114.00" r="0.5" fill="#9a4ab0" />
<circle cx="246.48" cy="106.95" r="0.5" fill="#7a2a92" />
<circle cx="249.24" cy="114.45" r="0.5" fill="#5e1f7c" />
<circle cx="245.96" cy="113.11" r="0.5" fill="#7a2a92" />
<circle cx="242.42" cy="112.32" r="0.5" fill="#8a3aa2" />
<circle cx="239.87" cy="113.81" r="0.5" fill="#7a2a92" />
<circle cx="245.76" cy="116.51" r="0.5" fill="#9a4ab0" />
<circle cx="252.77" cy="110.31" r="0.5" fill="#8a3aa2" />
<circle cx="250.39" cy="109.45" r="0.5" fill="#8a3aa2" />
<circle cx="241.63" cy="115.95" r="0.5" fill="#5e1f7c" />
<circle cx="246.60" cy="117.28" r="0.5" fill="#5e1f7c" />
<circle cx="250.43" cy="116.22" r="0.5" fill="#5e1f7c" />
<circle cx="243.93" cy="102.31" r="0.5" fill="#8a3aa2" />
<circle cx="245.52" cy="107.10" r="0.5" fill="#8a3aa2" />
<circle cx="243.56" cy="111.69" r="0.5" fill="#8a3aa2" />
<circle cx="246.27" cy="107.06" r="0.5" fill="#5e1f7c" />
<circle cx="247.79" cy="108.20" r="0.5" fill="#8a3aa2" />
<circle cx="240.41" cy="113.10" r="0.5" fill="#7a2a92" />
<circle cx="243.56" cy="109.48" r="0.5" fill="#9a4ab0" />
<circle cx="243.67" cy="106.75" r="0.5" fill="#7a2a92" />
<circle cx="244.39" cy="112.13" r="0.5" fill="#9a4ab0" />
<circle cx="248.94" cy="111.88" r="0.5" fill="#9a4ab0" />
<circle cx="243.01" cy="117.96" r="0.5" fill="#5e1f7c" />
<circle cx="245.39" cy="111.32" r="0.5" fill="#8a3aa2" />
<circle cx="246.57" cy="115.42" r="0.5" fill="#7a2a92" />
<circle cx="249.59" cy="110.68" r="0.5" fill="#5e1f7c" />
<circle cx="248.72" cy="104.08" r="0.5" fill="#5e1f7c" />
<circle cx="239.64" cy="111.42" r="0.5" fill="#8a3aa2" />
<circle cx="241.15" cy="115.80" r="0.5" fill="#9a4ab0" />
<circle cx="248.61" cy="108.56" r="0.5" fill="#7a2a92" />
<circle cx="246.87" cy="114.33" r="0.5" fill="#7a2a92" />
<circle cx="247.03" cy="112.52" r="0.5" fill="#5e1f7c" />
<circle cx="245.63" cy="110.43" r="0.5" fill="#8a3aa2" />
<circle cx="248.70" cy="109.02" r="0.5" fill="#8a3aa2" />
<circle cx="246.79" cy="113.95" r="0.5" fill="#9a4ab0" />
<circle cx="249.22" cy="112.60" r="0.5" fill="#8a3aa2" />
<circle cx="245.98" cy="110.93" r="0.5" fill="#7a2a92" />
<circle cx="242.75" cy="106.44" r="0.5" fill="#5e1f7c" />
<circle cx="241.43" cy="109.39" r="0.5" fill="#7a2a92" />
<circle cx="246.82" cy="119.86" r="0.5" fill="#5e1f7c" />
<circle cx="247.33" cy="107.41" r="0.5" fill="#9a4ab0" />
<circle cx="243.61" cy="112.29" r="0.5" fill="#7a2a92" />
<circle cx="251.44" cy="113.12" r="0.5" fill="#8a3aa2" />
<circle cx="245.83" cy="112.32" r="0.5" fill="#7a2a92" />
<circle cx="246.53" cy="117.75" r="0.5" fill="#8a3aa2" />
<circle cx="245.86" cy="114.04" r="0.5" fill="#9a4ab0" />
<circle cx="247.00" cy="113.26" r="0.5" fill="#5e1f7c" />
<circle cx="244.06" cy="117.88" r="0.5" fill="#9a4ab0" />
<circle cx="247.08" cy="112.09" r="0.5" fill="#9a4ab0" />
<circle cx="245.30" cy="112.05" r="0.5" fill="#9a4ab0" />
<circle cx="242.58" cy="118.90" r="0.5" fill="#5e1f7c" />
<circle cx="246.36" cy="108.45" r="0.5" fill="#5e1f7c" />
<circle cx="249.46" cy="111.37" r="0.5" fill="#9a4ab0" />
<circle cx="243.54" cy="108.34" r="0.5" fill="#5e1f7c" />
<circle cx="240.06" cy="109.34" r="0.5" fill="#8a3aa2" />
<circle cx="251.55" cy="116.70" r="0.5" fill="#8a3aa2" />
<circle cx="247.24" cy="111.99" r="0.5" fill="#8a3aa2" />
<circle cx="247.58" cy="119.05" r="0.5" fill="#5e1f7c" />
<circle cx="244.08" cy="113.76" r="0.5" fill="#8a3aa2" />
<circle cx="248.10" cy="105.95" r="0.5" fill="#9a4ab0" />
<circle cx="249.23" cy="106.87" r="0.5" fill="#7a2a92" />
<circle cx="246.18" cy="115.15" r="0.5" fill="#8a3aa2" />
<circle cx="243.34" cy="108.79" r="0.5" fill="#8a3aa2" />
<circle cx="244.61" cy="107.67" r="0.5" fill="#8a3aa2" />
<circle cx="247.86" cy="112.83" r="0.5" fill="#7a2a92" />
<circle cx="246.10" cy="110.32" r="0.5" fill="#8a3aa2" />
<circle cx="244.49" cy="111.86" r="0.5" fill="#8a3aa2" />
<circle cx="244.96" cy="110.00" r="0.5" fill="#7a2a92" />
<circle cx="242.02" cy="112.07" r="0.5" fill="#5e1f7c" />
<circle cx="244.61" cy="115.63" r="0.5" fill="#7a2a92" />
<circle cx="251.98" cy="117.58" r="0.5" fill="#9a4ab0" />
<circle cx="242.49" cy="114.54" r="0.5" fill="#7a2a92" />
<circle cx="246.99" cy="118.45" r="0.5" fill="#7a2a92" />
<circle cx="243.20" cy="115.02" r="0.5" fill="#5e1f7c" />
<circle cx="242.20" cy="109.88" r="0.5" fill="#8a3aa2" />
<circle cx="245.81" cy="111.10" r="0.5" fill="#5e1f7c" />
<circle cx="247.95" cy="115.56" r="0.5" fill="#5e1f7c" />
<circle cx="245.87" cy="119.29" r="0.5" fill="#5e1f7c" />
<circle cx="246.97" cy="112.92" r="0.5" fill="#9a4ab0" />
<circle cx="241.96" cy="115.83" r="0.5" fill="#7a2a92" />
<circle cx="242.59" cy="112.47" r="0.5" fill="#7a2a92" />
<circle cx="244.94" cy="108.27" r="0.5" fill="#8a3aa2" />
<circle cx="249.06" cy="110.37" r="0.5" fill="#5e1f7c" />
<circle cx="240.66" cy="112.31" r="0.5" fill="#8a3aa2" />
<circle cx="245.72" cy="110.45" r="0.5" fill="#7a2a92" />
<circle cx="249.97" cy="117.31" r="0.5" fill="#9a4ab0" />
<circle cx="245.69" cy="109.43" r="0.5" fill="#9a4ab0" />
<circle cx="240.85" cy="102.97" r="0.5" fill="#5e1f7c" />
<circle cx="241.88" cy="109.92" r="0.5" fill="#8a3aa2" />
<circle cx="244.85" cy="115.16" r="0.5" fill="#8a3aa2" />
<circle cx="244.86" cy="117.03" r="0.5" fill="#7a2a92" />
<circle cx="246.11" cy="110.28" r="0.5" fill="#5e1f7c" />
<circle cx="245.12" cy="109.45" r="0.5" fill="#9a4ab0" />
<circle cx="247.75" cy="117.86" r="0.5" fill="#9a4ab0" />
<circle cx="242.79" cy="112.96" r="0.5" fill="#8a3aa2" />
<circle cx="245.21" cy="110.68" r="0.5" fill="#8a3aa2" />
<circle cx="248.30" cy="105.57" r="0.5" fill="#8a3aa2" />
<circle cx="249.45" cy="114.35" r="0.5" fill="#7a2a92" />
<circle cx="245.11" cy="109.93" r="0.5" fill="#8a3aa2" />
<circle cx="247.56" cy="115.45" r="0.5" fill="#5e1f7c" />
<circle cx="243.42" cy="114.49" r="0.5" fill="#5e1f7c" />
<circle cx="248.14" cy="110.19" r="0.5" fill="#9a4ab0" />
<circle cx="244.93" cy="107.96" r="0.5" fill="#8a3aa2" />
<circle cx="242.34" cy="111.39" r="0.5" fill="#8a3aa2" />
<circle cx="250.10" cy="110.21" r="0.5" fill="#5e1f7c" />
<circle cx="244.09" cy="113.15" r="0.5" fill="#5e1f7c" />
<circle cx="252.32" cy="119.22" r="0.5" fill="#7a2a92" />
<circle cx="244.92" cy="115.49" r="0.5" fill="#8a3aa2" />
<circle cx="249.00" cy="102.76" r="0.5" fill="#5e1f7c" />
<circle cx="250.76" cy="111.71" r="0.5" fill="#8a3aa2" />
<circle cx="242.73" cy="119.69" r="0.5" fill="#5e1f7c" />
<circle cx="249.37" cy="113.38" r="0.5" fill="#7a2a92" />
<circle cx="248.18" cy="120.81" r="0.5" fill="#9a4ab0" />
<circle cx="246.02" cy="110.40" r="0.5" fill="#5e1f7c" />
<circle cx="242.62" cy="109.83" r="0.5" fill="#9a4ab0" />
<circle cx="245.94" cy="115.48" r="0.5" fill="#9a4ab0" />
<circle cx="245.67" cy="110.43" r="0.5" fill="#9a4ab0" />
<circle cx="242.18" cy="115.91" r="0.5" fill="#8a3aa2" />
<circle cx="242.30" cy="109.50" r="0.5" fill="#9a4ab0" />
<circle cx="242.10" cy="109.09" r="0.5" fill="#7a2a92" />
<circle cx="246.46" cy="114.79" r="0.5" fill="#9a4ab0" />
<circle cx="244.36" cy="110.78" r="0.5" fill="#5e1f7c" />
<circle cx="241.90" cy="115.16" r="0.5" fill="#7a2a92" />
<circle cx="243.09" cy="108.94" r="0.5" fill="#8a3aa2" />
<circle cx="243.68" cy="115.29" r="0.5" fill="#7a2a92" />
<circle cx="244.12" cy="108.29" r="0.5" fill="#7a2a92" />
<circle cx="247.62" cy="117.55" r="0.5" fill="#8a3aa2" />
<circle cx="246.40" cy="109.92" r="0.5" fill="#8a3aa2" />
<circle cx="239.11" cy="110.18" r="0.5" fill="#9a4ab0" />
<circle cx="245.45" cy="105.44" r="0.5" fill="#7a2a92" />
<circle cx="244.51" cy="106.90" r="0.5" fill="#5e1f7c" />
<circle cx="241.71" cy="103.15" r="0.5" fill="#8a3aa2" />
<circle cx="249.11" cy="115.00" r="0.5" fill="#7a2a92" />
<circle cx="245.49" cy="111.41" r="0.5" fill="#7a2a92" />
<circle cx="241.91" cy="112.13" r="0.5" fill="#7a2a92" />
<circle cx="248.25" cy="116.77" r="0.5" fill="#9a4ab0" />
<circle cx="245.83" cy="107.64" r="0.5" fill="#5e1f7c" />
<circle cx="242.67" cy="115.09" r="0.5" fill="#9a4ab0" />
<circle cx="247.06" cy="117.21" r="0.5" fill="#8a3aa2" />
<circle cx="245.35" cy="109.64" r="0.5" fill="#7a2a92" />
<circle cx="245.98" cy="114.48" r="0.5" fill="#9a4ab0" />
<circle cx="242.04" cy="107.80" r="0.5" fill="#8a3aa2" />
<circle cx="242.24" cy="108.41" r="0.5" fill="#9a4ab0" />
<circle cx="248.67" cy="108.60" r="0.5" fill="#8a3aa2" />
<circle cx="246.05" cy="113.12" r="0.5" fill="#8a3aa2" />
<circle cx="242.61" cy="111.73" r="0.5" fill="#5e1f7c" />
<circle cx="248.21" cy="118.79" r="0.5" fill="#9a4ab0" />
<circle cx="245.16" cy="119.24" r="0.5" fill="#5e1f7c" />
<circle cx="245.67" cy="108.17" r="0.5" fill="#5e1f7c" />
<circle cx="248.66" cy="107.58" r="0.5" fill="#7a2a92" />
<circle cx="245.97" cy="109.95" r="0.5" fill="#5e1f7c" />
<circle cx="243.44" cy="113.12" r="0.5" fill="#5e1f7c" />
<circle cx="244.87" cy="112.71" r="0.5" fill="#5e1f7c" />
<circle cx="244.15" cy="111.69" r="0.5" fill="#7a2a92" />
<circle cx="245.25" cy="112.63" r="0.5" fill="#5e1f7c" />
<circle cx="246.61" cy="112.20" r="0.5" fill="#8a3aa2" />
<circle cx="246.85" cy="113.92" r="0.5" fill="#9a4ab0" />
<circle cx="244.23" cy="110.76" r="0.5" fill="#9a4ab0" />
<circle cx="246.88" cy="112.89" r="0.5" fill="#7a2a92" />
<circle cx="244.02" cy="107.63" r="0.5" fill="#5e1f7c" />
<circle cx="240.62" cy="114.39" r="0.5" fill="#7a2a92" />
<circle cx="249.52" cy="111.96" r="0.5" fill="#7a2a92" />
<circle cx="242.70" cy="108.96" r="0.5" fill="#8a3aa2" />
<circle cx="244.88" cy="114.52" r="0.5" fill="#7a2a92" />
<circle cx="242.89" cy="102.69" r="0.5" fill="#9a4ab0" />
<circle cx="246.17" cy="112.26" r="0.5" fill="#7a2a92" />
<circle cx="247.22" cy="114.27" r="0.5" fill="#9a4ab0" />
<circle cx="247.61" cy="107.92" r="0.5" fill="#5e1f7c" />
<circle cx="251.00" cy="110.95" r="0.5" fill="#5e1f7c" />
<circle cx="244.08" cy="111.51" r="0.5" fill="#7a2a92" />
<circle cx="245.11" cy="108.01" r="0.5" fill="#5e1f7c" />
<circle cx="239.90" cy="112.90" r="0.5" fill="#9a4ab0" />
<circle cx="244.48" cy="102.85" r="0.5" fill="#7a2a92" />
<circle cx="246.15" cy="113.24" r="0.5" fill="#8a3aa2" />
<circle cx="248.32" cy="107.58" r="0.5" fill="#5e1f7c" />
<circle cx="250.16" cy="108.05" r="0.5" fill="#8a3aa2" />
<circle cx="249.54" cy="111.34" r="0.5" fill="#5e1f7c" />
<circle cx="248.01" cy="104.43" r="0.5" fill="#5e1f7c" />
<circle cx="243.92" cy="109.05" r="0.5" fill="#5e1f7c" />
<circle cx="248.09" cy="108.70" r="0.5" fill="#5e1f7c" />
<circle cx="245.55" cy="118.54" r="0.5" fill="#7a2a92" />
<circle cx="244.98" cy="110.33" r="0.5" fill="#5e1f7c" />
<circle cx="247.66" cy="120.42" r="0.5" fill="#7a2a92" />
<circle cx="250.81" cy="112.47" r="0.5" fill="#9a4ab0" />
<circle cx="244.85" cy="110.85" r="0.5" fill="#5e1f7c" />
<circle cx="245.36" cy="113.25" r="0.5" fill="#9a4ab0" />
<circle cx="246.12" cy="107.20" r="0.5" fill="#9a4ab0" />
<circle cx="243.10" cy="107.61" r="0.5" fill="#7a2a92" />
<circle cx="243.06" cy="113.72" r="0.5" fill="#9a4ab0" />
<circle cx="249.49" cy="110.28" r="0.5" fill="#8a3aa2" />
<circle cx="244.42" cy="115.33" r="0.5" fill="#7a2a92" />
<circle cx="243.53" cy="117.71" r="0.5" fill="#5e1f7c" />
<circle cx="243.57" cy="113.87" r="0.5" fill="#5e1f7c" />
<circle cx="244.54" cy="109.06" r="0.5" fill="#5e1f7c" />
<circle cx="244.81" cy="112.66" r="0.5" fill="#7a2a92" />
<circle cx="246.25" cy="106.48" r="0.5" fill="#7a2a92" />
<circle cx="247.23" cy="106.85" r="0.5" fill="#7a2a92" />
<circle cx="245.65" cy="112.88" r="0.5" fill="#9a4ab0" />
<circle cx="242.81" cy="111.50" r="0.5" fill="#9a4ab0" />
<circle cx="245.75" cy="100.66" r="0.5" fill="#8a3aa2" />
<circle cx="240.86" cy="107.72" r="0.5" fill="#7a2a92" />
<circle cx="246.03" cy="116.51" r="0.5" fill="#8a3aa2" />
<circle cx="247.12" cy="108.96" r="0.5" fill="#7a2a92" />
<circle cx="243.56" cy="111.29" r="0.5" fill="#7a2a92" />
<circle cx="244.34" cy="112.64" r="0.5" fill="#9a4ab0" />
<circle cx="246.95" cy="119.17" r="0.5" fill="#8a3aa2" />
<circle cx="246.08" cy="105.28" r="0.5" fill="#7a2a92" />
<circle cx="246.96" cy="107.34" r="0.5" fill="#8a3aa2" />
<circle cx="248.94" cy="111.97" r="0.5" fill="#9a4ab0" />
<circle cx="244.48" cy="102.30" r="0.5" fill="#5e1f7c" />
<circle cx="247.14" cy="113.44" r="0.5" fill="#7a2a92" />
<circle cx="245.14" cy="112.96" r="0.5" fill="#7a2a92" />
<circle cx="245.63" cy="109.28" r="0.5" fill="#8a3aa2" />
<circle cx="247.10" cy="120.26" r="0.5" fill="#7a2a92" />
<circle cx="244.25" cy="107.86" r="0.5" fill="#9a4ab0" />
<circle cx="251.62" cy="109.59" r="0.5" fill="#7a2a92" />
<circle cx="245.91" cy="108.06" r="0.5" fill="#9a4ab0" />
<circle cx="248.54" cy="104.64" r="0.5" fill="#9a4ab0" />
<circle cx="246.28" cy="119.45" r="0.5" fill="#5e1f7c" />
<circle cx="244.00" cy="111.79" r="0.5" fill="#5e1f7c" />
<circle cx="246.52" cy="117.03" r="0.5" fill="#7a2a92" />
<circle cx="242.43" cy="115.12" r="0.5" fill="#5e1f7c" />
<circle cx="242.41" cy="101.82" r="0.5" fill="#8a3aa2" />
<circle cx="241.85" cy="107.42" r="0.5" fill="#8a3aa2" />
<circle cx="248.47" cy="113.47" r="0.5" fill="#7a2a92" />
<circle cx="243.54" cy="110.69" r="0.5" fill="#8a3aa2" />
<circle cx="247.52" cy="105.27" r="0.5" fill="#7a2a92" />
<circle cx="243.03" cy="111.62" r="0.5" fill="#8a3aa2" />
<circle cx="247.04" cy="110.92" r="0.5" fill="#9a4ab0" />
<circle cx="250.81" cy="111.14" r="0.5" fill="#9a4ab0" />
<circle cx="246.53" cy="113.06" r="0.5" fill="#8a3aa2" />
<circle cx="243.87" cy="111.65" r="0.5" fill="#9a4ab0" />
<circle cx="246.47" cy="109.28" r="0.5" fill="#5e1f7c" />
<circle cx="246.00" cy="111.68" r="0.5" fill="#9a4ab0" />
<circle cx="245.41" cy="110.37" r="0.5" fill="#5e1f7c" />
<circle cx="245.89" cy="112.64" r="0.5" fill="#5e1f7c" />
<circle cx="243.65" cy="116.21" r="0.5" fill="#9a4ab0" />
<circle cx="243.43" cy="109.25" r="0.5" fill="#8a3aa2" />
<circle cx="245.53" cy="113.18" r="0.5" fill="#5e1f7c" />
<circle cx="247.19" cy="108.51" r="0.5" fill="#9a4ab0" />
<circle cx="248.24" cy="113.81" r="0.5" fill="#8a3aa2" />
<circle cx="248.16" cy="110.74" r="0.5" fill="#9a4ab0" />
<circle cx="246.51" cy="112.80" r="0.5" fill="#7a2a92" />
</g>
<ellipse cx="245.3" cy="108.6" rx="2.0" ry="1.3" fill="#3a1050" opacity="0.85" filter="url(#b1)"/>
<g filter="url(#b3)" opacity="0.7">
<circle cx="251.23" cy="109.28" r="0.35" fill="#4a6ad0" />
<circle cx="252.80" cy="113.04" r="0.35" fill="#4a6ad0" />
<circle cx="251.83" cy="120.01" r="0.35" fill="#4a6ad0" />
<circle cx="251.68" cy="106.84" r="0.35" fill="#4a6ad0" />
<circle cx="251.91" cy="111.49" r="0.35" fill="#4a6ad0" />
<circle cx="253.53" cy="103.35" r="0.35" fill="#4a6ad0" />
<circle cx="252.89" cy="112.80" r="0.35" fill="#4a6ad0" />
<circle cx="249.96" cy="114.98" r="0.35" fill="#4a6ad0" />
<circle cx="251.63" cy="114.60" r="0.35" fill="#4a6ad0" />
<circle cx="251.96" cy="112.70" r="0.35" fill="#4a6ad0" />
<circle cx="252.18" cy="116.85" r="0.35" fill="#4a6ad0" />
<circle cx="252.20" cy="115.05" r="0.35" fill="#4a6ad0" />
<circle cx="251.00" cy="120.30" r="0.35" fill="#4a6ad0" />
<circle cx="251.09" cy="116.97" r="0.35" fill="#4a6ad0" />
</g>
<g filter="url(#b1)">
<ellipse cx="239" cy="122.0" rx="11.5" ry="1.7" fill="#e8361f"/>
<ellipse cx="246.5" cy="122.2" rx="6.8" ry="2.7" fill="#e8321e"/>
<ellipse cx="230" cy="121.6" rx="3.2" ry="1.2" fill="#ee4a32"/>
</g>
<rect x="237.5" y="98" width="17" height="22" fill="none" stroke="#666" stroke-width="0.45" />
<text x="245.5" y="140.2" font-size="3.6" fill="#111" text-anchor="middle" stroke="#111" stroke-width="0.12" >APC-Cy7-A</text>
<text x="245.8" y="149.63" font-size="6.8" fill="#1b1b1b" text-anchor="middle" textLength="11.2" lengthAdjust="spacingAndGlyphs" stroke="#1b1b1b" stroke-width="0.16" >CD3</text>
<line x1="274" y1="106.8" x2="282" y2="106.8" stroke="#111" stroke-width="1.25" />
<path d="M280.6 104.6 L285.2 106.8 L280.6 109 Z" fill="#111"/>
<rect x="311.9" y="83.0" width="43.6" height="44.4" fill="#fff" stroke="#8a8a8a" stroke-width="0.5" />
<text font-size="6.8" fill="#1b1b1b" text-anchor="middle" textLength="10.2" lengthAdjust="spacingAndGlyphs" stroke="#1b1b1b" stroke-width="0.16" transform="translate(294.2,105) rotate(-90)" >CD7</text>
<text font-size="3.6" fill="#111" text-anchor="middle" stroke="#111" stroke-width="0.12" transform="translate(302.5,104.5) rotate(-90)" >PE-A</text>
<line x1="310.7" y1="87.0" x2="311.9" y2="87.0" stroke="#666" stroke-width="0.4" />
<text x="310.09999999999997" y="88.0" font-size="2.8" fill="#1f1f1f" text-anchor="end" stroke="#1f1f1f" stroke-width="0.12" >10</text>
<line x1="310.7" y1="95.0" x2="311.9" y2="95.0" stroke="#666" stroke-width="0.4" />
<text x="310.09999999999997" y="96.0" font-size="2.8" fill="#1f1f1f" text-anchor="end" stroke="#1f1f1f" stroke-width="0.12" >10</text>
<line x1="310.7" y1="103.5" x2="311.9" y2="103.5" stroke="#666" stroke-width="0.4" />
<text x="310.09999999999997" y="104.5" font-size="2.8" fill="#1f1f1f" text-anchor="end" stroke="#1f1f1f" stroke-width="0.12" >10</text>
<line x1="310.7" y1="112.0" x2="311.9" y2="112.0" stroke="#666" stroke-width="0.4" />
<text x="310.09999999999997" y="113.0" font-size="2.8" fill="#1f1f1f" text-anchor="end" stroke="#1f1f1f" stroke-width="0.12" >10</text>
<line x1="310.7" y1="119.0" x2="311.9" y2="119.0" stroke="#666" stroke-width="0.4" />
<text x="310.09999999999997" y="120.0" font-size="2.8" fill="#1f1f1f" text-anchor="end" stroke="#1f1f1f" stroke-width="0.12" >10</text>
<line x1="310.7" y1="123.0" x2="311.9" y2="123.0" stroke="#666" stroke-width="0.4" />
<text x="310.09999999999997" y="124.0" font-size="2.8" fill="#1f1f1f" text-anchor="end" stroke="#1f1f1f" stroke-width="0.12" >10</text>
<line x1="316.9" y1="127.4" x2="316.9" y2="128.6" stroke="#666" stroke-width="0.4" />
<text x="316.9" y="131.5" font-size="2.8" fill="#1f1f1f" text-anchor="middle" stroke="#1f1f1f" stroke-width="0.12" >10</text>
<line x1="321.4" y1="127.4" x2="321.4" y2="128.6" stroke="#666" stroke-width="0.4" />
<text x="321.4" y="131.5" font-size="2.8" fill="#1f1f1f" text-anchor="middle" stroke="#1f1f1f" stroke-width="0.12" >10</text>
<line x1="329.9" y1="127.4" x2="329.9" y2="128.6" stroke="#666" stroke-width="0.4" />
<text x="329.9" y="131.5" font-size="2.8" fill="#1f1f1f" text-anchor="middle" stroke="#1f1f1f" stroke-width="0.12" >10</text>
<line x1="339.9" y1="127.4" x2="339.9" y2="128.6" stroke="#666" stroke-width="0.4" />
<text x="339.9" y="131.5" font-size="2.8" fill="#1f1f1f" text-anchor="middle" stroke="#1f1f1f" stroke-width="0.12" >10</text>
<line x1="349.9" y1="127.4" x2="349.9" y2="128.6" stroke="#666" stroke-width="0.4" />
<text x="349.9" y="131.5" font-size="2.8" fill="#1f1f1f" text-anchor="middle" stroke="#1f1f1f" stroke-width="0.12" >10</text>
<rect x="311.9" y="98.8" width="10.900000000000034" height="28.200000000000003" fill="none" stroke="#555" stroke-width="0.5" />
<line x1="311.9" y1="118.1" x2="322.8" y2="118.1" stroke="#555" stroke-width="0.5" />
<rect x="323.5" y="99.39999999999999" width="21.19999999999999" height="27.6" fill="none" stroke="#555" stroke-width="0.5" />
<text x="312.7" y="98.5" font-size="2.5" fill="#1f1f1f" stroke="#1f1f1f" stroke-width="0.12" >P5</text>
<text x="310.5" y="134.6" font-size="2.5" fill="#555" text-anchor="middle" stroke="#555" stroke-width="0.12" >-194</text>
<text x="311.0" y="130.4" font-size="2.5" fill="#555" text-anchor="end" stroke="#555" stroke-width="0.12" >-137</text>
<text x="333.5" y="111.6" font-size="2.6" fill="#161616" text-anchor="middle" stroke="#161616" stroke-width="0.12" >P4</text>
<ellipse cx="317.2" cy="112" rx="2.0" ry="3.6" fill="#a9a0ea" opacity="0.55" filter="url(#b1)"/>
<g filter="url(#b3)" opacity="0.85">
<circle cx="317.99" cy="110.71" r="0.42" fill="#6a5ed0" />
<circle cx="317.66" cy="111.81" r="0.42" fill="#6a5ed0" />
<circle cx="319.13" cy="116.59" r="0.42" fill="#9a8ee8" />
<circle cx="316.60" cy="114.56" r="0.42" fill="#5a4cc0" />
<circle cx="316.21" cy="112.16" r="0.42" fill="#5a4cc0" />
<circle cx="317.61" cy="113.04" r="0.42" fill="#6a5ed0" />
<circle cx="317.01" cy="112.52" r="0.42" fill="#9a8ee8" />
<circle cx="316.80" cy="113.68" r="0.42" fill="#6a5ed0" />
<circle cx="317.49" cy="116.47" r="0.42" fill="#5a4cc0" />
<circle cx="316.36" cy="109.08" r="0.42" fill="#6a5ed0" />
<circle cx="316.33" cy="108.97" r="0.42" fill="#9a8ee8" />
<circle cx="317.46" cy="114.61" r="0.42" fill="#8a80e0" />
<circle cx="318.41" cy="106.58" r="0.42" fill="#6a5ed0" />
<circle cx="318.18" cy="105.08" r="0.42" fill="#6a5ed0" />
<circle cx="317.86" cy="115.34" r="0.42" fill="#6a5ed0" />
<circle cx="319.57" cy="117.88" r="0.42" fill="#8a80e0" />
<circle cx="315.99" cy="113.43" r="0.42" fill="#9a8ee8" />
<circle cx="313.48" cy="114.47" r="0.42" fill="#9a8ee8" />
<circle cx="315.43" cy="114.78" r="0.42" fill="#8a80e0" />
<circle cx="316.97" cy="107.54" r="0.42" fill="#8a80e0" />
<circle cx="317.50" cy="109.43" r="0.42" fill="#8a80e0" />
<circle cx="319.33" cy="111.08" r="0.42" fill="#8a80e0" />
<circle cx="315.34" cy="110.31" r="0.42" fill="#9a8ee8" />
<circle cx="317.52" cy="110.42" r="0.42" fill="#5a4cc0" />
<circle cx="317.66" cy="109.58" r="0.42" fill="#8a80e0" />
<circle cx="316.66" cy="111.90" r="0.42" fill="#9a8ee8" />
<circle cx="317.92" cy="113.29" r="0.42" fill="#6a5ed0" />
<circle cx="316.78" cy="108.17" r="0.42" fill="#8a80e0" />
<circle cx="315.26" cy="106.35" r="0.42" fill="#6a5ed0" />
<circle cx="316.15" cy="111.89" r="0.42" fill="#5a4cc0" />
<circle cx="318.21" cy="109.73" r="0.42" fill="#8a80e0" />
<circle cx="317.68" cy="113.29" r="0.42" fill="#5a4cc0" />
<circle cx="316.89" cy="110.36" r="0.42" fill="#5a4cc0" />
<circle cx="317.65" cy="114.82" r="0.42" fill="#9a8ee8" />
<circle cx="318.89" cy="113.02" r="0.42" fill="#8a80e0" />
<circle cx="315.92" cy="106.71" r="0.42" fill="#5a4cc0" />
<circle cx="318.13" cy="113.34" r="0.42" fill="#9a8ee8" />
<circle cx="318.67" cy="112.83" r="0.42" fill="#8a80e0" />
<circle cx="319.11" cy="114.15" r="0.42" fill="#8a80e0" />
<circle cx="315.68" cy="111.49" r="0.42" fill="#6a5ed0" />
<circle cx="316.24" cy="115.20" r="0.42" fill="#9a8ee8" />
<circle cx="314.43" cy="112.14" r="0.42" fill="#8a80e0" />
<circle cx="316.27" cy="108.18" r="0.42" fill="#8a80e0" />
<circle cx="315.67" cy="110.13" r="0.42" fill="#6a5ed0" />
<circle cx="316.70" cy="110.62" r="0.42" fill="#6a5ed0" />
<circle cx="315.50" cy="109.06" r="0.42" fill="#5a4cc0" />
<circle cx="317.04" cy="115.49" r="0.42" fill="#9a8ee8" />
<circle cx="314.69" cy="114.77" r="0.42" fill="#9a8ee8" />
<circle cx="318.03" cy="115.17" r="0.42" fill="#8a80e0" />
<circle cx="318.85" cy="114.36" r="0.42" fill="#5a4cc0" />
<circle cx="319.81" cy="116.85" r="0.42" fill="#6a5ed0" />
<circle cx="317.73" cy="107.41" r="0.42" fill="#6a5ed0" />
<circle cx="319.93" cy="115.68" r="0.42" fill="#5a4cc0" />
<circle cx="318.83" cy="113.17" r="0.42" fill="#6a5ed0" />
<circle cx="314.23" cy="111.61" r="0.42" fill="#9a8ee8" />
<circle cx="317.89" cy="111.31" r="0.42" fill="#8a80e0" />
<circle cx="317.71" cy="112.33" r="0.42" fill="#6a5ed0" />
<circle cx="318.14" cy="110.45" r="0.42" fill="#6a5ed0" />
<circle cx="317.62" cy="111.82" r="0.42" fill="#9a8ee8" />
<circle cx="316.04" cy="107.07" r="0.42" fill="#6a5ed0" />
<circle cx="316.86" cy="111.16" r="0.42" fill="#8a80e0" />
<circle cx="317.74" cy="113.57" r="0.42" fill="#9a8ee8" />
<circle cx="317.42" cy="107.35" r="0.42" fill="#6a5ed0" />
<circle cx="315.89" cy="114.35" r="0.42" fill="#8a80e0" />
<circle cx="318.26" cy="109.78" r="0.42" fill="#8a80e0" />
<circle cx="316.92" cy="114.51" r="0.42" fill="#9a8ee8" />
<circle cx="318.76" cy="115.07" r="0.42" fill="#9a8ee8" />
</g>
<g filter="url(#b3)" opacity="0.7">
<circle cx="319.61" cy="119.90" r="0.42" fill="#4eb060" />
<circle cx="315.30" cy="119.11" r="0.42" fill="#6ec07a" />
<circle cx="316.96" cy="120.83" r="0.42" fill="#6ec07a" />
<circle cx="315.86" cy="121.86" r="0.42" fill="#4eb060" />
<circle cx="315.18" cy="121.71" r="0.42" fill="#8ed09a" />
<circle cx="314.08" cy="120.89" r="0.42" fill="#4eb060" />
<circle cx="316.79" cy="121.97" r="0.42" fill="#8ed09a" />
<circle cx="319.00" cy="120.61" r="0.42" fill="#4eb060" />
<circle cx="318.77" cy="121.32" r="0.42" fill="#6ec07a" />
<circle cx="317.25" cy="122.05" r="0.42" fill="#4eb060" />
<circle cx="317.87" cy="120.08" r="0.42" fill="#8ed09a" />
<circle cx="316.26" cy="123.15" r="0.42" fill="#8ed09a" />
<circle cx="316.71" cy="118.77" r="0.42" fill="#6ec07a" />
<circle cx="315.17" cy="122.70" r="0.42" fill="#8ed09a" />
<circle cx="317.66" cy="122.42" r="0.42" fill="#4eb060" />
<circle cx="316.31" cy="119.78" r="0.42" fill="#4eb060" />
<circle cx="316.41" cy="121.70" r="0.42" fill="#6ec07a" />
<circle cx="317.29" cy="120.30" r="0.42" fill="#4eb060" />
<circle cx="318.45" cy="120.86" r="0.42" fill="#4eb060" />
<circle cx="317.66" cy="121.11" r="0.42" fill="#4eb060" />
<circle cx="316.83" cy="119.77" r="0.42" fill="#6ec07a" />
<circle cx="316.97" cy="122.30" r="0.42" fill="#8ed09a" />
<circle cx="316.20" cy="120.63" r="0.42" fill="#4eb060" />
<circle cx="317.84" cy="120.22" r="0.42" fill="#4eb060" />
<circle cx="318.81" cy="118.63" r="0.42" fill="#6ec07a" />
<circle cx="316.27" cy="119.23" r="0.42" fill="#4eb060" />
</g>
<path d="M333.5 111.5 C335 113.5 338.6 119 339.4 122.3 L329.8 122.3 C330.4 119 332.4 113.5 333.5 111.5 Z" fill="#c2228a" filter="url(#b1)"/>
<ellipse cx="334.4" cy="119.6" rx="3.4" ry="2.6" fill="#b0187c" filter="url(#b1)"/>
<g filter="url(#b3)" opacity="0.85">
<circle cx="333.63" cy="117.02" r="0.42" fill="#b0187c" />
<circle cx="336.35" cy="120.30" r="0.42" fill="#d050a8" />
<circle cx="334.55" cy="115.45" r="0.42" fill="#a8106c" />
<circle cx="334.05" cy="120.42" r="0.42" fill="#d050a8" />
<circle cx="334.34" cy="116.97" r="0.42" fill="#b0187c" />
<circle cx="335.79" cy="116.33" r="0.42" fill="#b0187c" />
<circle cx="339.98" cy="118.51" r="0.42" fill="#c83a9a" />
<circle cx="334.35" cy="116.11" r="0.42" fill="#c83a9a" />
<circle cx="333.06" cy="113.10" r="0.42" fill="#b0187c" />
<circle cx="333.80" cy="117.89" r="0.42" fill="#d050a8" />
<circle cx="333.24" cy="121.90" r="0.42" fill="#d050a8" />
<circle cx="334.00" cy="114.65" r="0.42" fill="#d050a8" />
<circle cx="335.68" cy="116.37" r="0.42" fill="#b0187c" />
<circle cx="331.73" cy="119.36" r="0.42" fill="#a8106c" />
<circle cx="332.02" cy="117.57" r="0.42" fill="#d050a8" />
<circle cx="337.00" cy="116.96" r="0.42" fill="#a8106c" />
<circle cx="334.69" cy="118.34" r="0.42" fill="#a8106c" />
<circle cx="331.56" cy="111.46" r="0.42" fill="#d050a8" />
<circle cx="337.98" cy="114.04" r="0.42" fill="#c83a9a" />
<circle cx="335.93" cy="115.93" r="0.42" fill="#a8106c" />
<circle cx="335.71" cy="117.43" r="0.42" fill="#b0187c" />
<circle cx="336.01" cy="115.44" r="0.42" fill="#a8106c" />
<circle cx="335.81" cy="117.82" r="0.42" fill="#a8106c" />
<circle cx="334.01" cy="116.39" r="0.42" fill="#b0187c" />
<circle cx="335.35" cy="118.91" r="0.42" fill="#a8106c" />
<circle cx="332.18" cy="117.03" r="0.42" fill="#b0187c" />
<circle cx="333.78" cy="115.76" r="0.42" fill="#d050a8" />
<circle cx="337.64" cy="119.70" r="0.42" fill="#a8106c" />
<circle cx="331.05" cy="119.98" r="0.42" fill="#a8106c" />
<circle cx="334.45" cy="117.01" r="0.42" fill="#b0187c" />
<circle cx="336.56" cy="108.97" r="0.42" fill="#a8106c" />
<circle cx="332.49" cy="116.12" r="0.42" fill="#b0187c" />
<circle cx="335.40" cy="117.64" r="0.42" fill="#c83a9a" />
<circle cx="334.28" cy="116.83" r="0.42" fill="#b0187c" />
<circle cx="334.06" cy="114.24" r="0.42" fill="#d050a8" />
<circle cx="334.18" cy="122.89" r="0.42" fill="#a8106c" />
<circle cx="330.66" cy="114.38" r="0.42" fill="#b0187c" />
<circle cx="336.18" cy="116.45" r="0.42" fill="#c83a9a" />
<circle cx="331.11" cy="119.09" r="0.42" fill="#c83a9a" />
<circle cx="335.74" cy="119.43" r="0.42" fill="#c83a9a" />
<circle cx="332.07" cy="116.79" r="0.42" fill="#b0187c" />
<circle cx="332.81" cy="121.39" r="0.42" fill="#a8106c" />
<circle cx="328.70" cy="115.85" r="0.42" fill="#d050a8" />
<circle cx="332.41" cy="116.32" r="0.42" fill="#d050a8" />
<circle cx="334.16" cy="121.12" r="0.42" fill="#c83a9a" />
<circle cx="335.15" cy="113.00" r="0.42" fill="#c83a9a" />
<circle cx="339.28" cy="117.86" r="0.42" fill="#c83a9a" />
<circle cx="333.93" cy="116.61" r="0.42" fill="#c83a9a" />
<circle cx="337.07" cy="120.27" r="0.42" fill="#c83a9a" />
<circle cx="333.20" cy="114.69" r="0.42" fill="#d050a8" />
<circle cx="332.67" cy="120.02" r="0.42" fill="#b0187c" />
<circle cx="337.25" cy="121.81" r="0.42" fill="#d050a8" />
<circle cx="331.12" cy="115.61" r="0.42" fill="#c83a9a" />
<circle cx="333.27" cy="119.92" r="0.42" fill="#c83a9a" />
<circle cx="336.11" cy="119.02" r="0.42" fill="#a8106c" />
<circle cx="334.34" cy="119.59" r="0.42" fill="#c83a9a" />
<circle cx="331.73" cy="115.68" r="0.42" fill="#b0187c" />
<circle cx="331.74" cy="119.19" r="0.42" fill="#b0187c" />
<circle cx="335.36" cy="118.99" r="0.42" fill="#c83a9a" />
<circle cx="335.58" cy="122.01" r="0.42" fill="#c83a9a" />
<circle cx="330.44" cy="116.35" r="0.42" fill="#a8106c" />
<circle cx="335.98" cy="119.82" r="0.42" fill="#a8106c" />
<circle cx="334.37" cy="112.28" r="0.42" fill="#a8106c" />
<circle cx="331.69" cy="119.81" r="0.42" fill="#d050a8" />
<circle cx="335.46" cy="119.38" r="0.42" fill="#a8106c" />
<circle cx="332.82" cy="116.83" r="0.42" fill="#a8106c" />
<circle cx="336.76" cy="118.96" r="0.42" fill="#a8106c" />
<circle cx="334.10" cy="116.43" r="0.42" fill="#a8106c" />
</g>
<text x="330" y="140.0" font-size="3.6" fill="#111" text-anchor="middle" stroke="#111" stroke-width="0.12" >APC-A</text>
<text x="332.5" y="149.83" font-size="6.8" fill="#1b1b1b" text-anchor="middle" textLength="20" lengthAdjust="spacingAndGlyphs" stroke="#1b1b1b" stroke-width="0.16" >CADM1</text>
<line x1="358" y1="71.2" x2="387.6" y2="37.2" stroke="#111" stroke-width="1.35" />
<path d="M390.6 33.8 L385.6 36.6 L388.9 39.5 Z" fill="#111"/>
<line x1="361" y1="106.3" x2="387.5" y2="106.3" stroke="#111" stroke-width="1.25" />
<path d="M386 104.1 L390.6 106.3 L386 108.5 Z" fill="#111"/>
<text x="367.3" y="94.2" font-size="5.6" fill="#1f1f1f" stroke="#1f1f1f" stroke-width="0.16" >Sorting</text>
<rect x="417.4" y="3.0" width="44.6" height="44.5" fill="#fff" stroke="#8a8a8a" stroke-width="0.5" />
<text font-size="6.8" fill="#1b1b1b" text-anchor="middle" textLength="10.2" lengthAdjust="spacingAndGlyphs" stroke="#1b1b1b" stroke-width="0.16" transform="translate(399.8,27) rotate(-90)" >CD7</text>
<text font-size="3.6" fill="#111" text-anchor="middle" stroke="#111" stroke-width="0.12" transform="translate(408.5,26.5) rotate(-90)" >PE-A</text>
<line x1="416.2" y1="7.0" x2="417.4" y2="7.0" stroke="#666" stroke-width="0.4" />
<text x="415.59999999999997" y="8.0" font-size="2.8" fill="#1f1f1f" text-anchor="end" stroke="#1f1f1f" stroke-width="0.12" >10</text>
<line x1="416.2" y1="15.0" x2="417.4" y2="15.0" stroke="#666" stroke-width="0.4" />
<text x="415.59999999999997" y="16.0" font-size="2.8" fill="#1f1f1f" text-anchor="end" stroke="#1f1f1f" stroke-width="0.12" >10</text>
<line x1="416.2" y1="23.5" x2="417.4" y2="23.5" stroke="#666" stroke-width="0.4" />
<text x="415.59999999999997" y="24.5" font-size="2.8" fill="#1f1f1f" text-anchor="end" stroke="#1f1f1f" stroke-width="0.12" >10</text>
<line x1="416.2" y1="32.0" x2="417.4" y2="32.0" stroke="#666" stroke-width="0.4" />
<text x="415.59999999999997" y="33.0" font-size="2.8" fill="#1f1f1f" text-anchor="end" stroke="#1f1f1f" stroke-width="0.12" >10</text>
<line x1="416.2" y1="39.0" x2="417.4" y2="39.0" stroke="#666" stroke-width="0.4" />
<text x="415.59999999999997" y="40.0" font-size="2.8" fill="#1f1f1f" text-anchor="end" stroke="#1f1f1f" stroke-width="0.12" >10</text>
<line x1="416.2" y1="43.0" x2="417.4" y2="43.0" stroke="#666" stroke-width="0.4" />
<text x="415.59999999999997" y="44.0" font-size="2.8" fill="#1f1f1f" text-anchor="end" stroke="#1f1f1f" stroke-width="0.12" >10</text>
<line x1="422.4" y1="47.5" x2="422.4" y2="48.7" stroke="#666" stroke-width="0.4" />
<text x="422.4" y="51.6" font-size="2.8" fill="#1f1f1f" text-anchor="middle" stroke="#1f1f1f" stroke-width="0.12" >10</text>
<line x1="426.9" y1="47.5" x2="426.9" y2="48.7" stroke="#666" stroke-width="0.4" />
<text x="426.9" y="51.6" font-size="2.8" fill="#1f1f1f" text-anchor="middle" stroke="#1f1f1f" stroke-width="0.12" >10</text>
<line x1="435.4" y1="47.5" x2="435.4" y2="48.7" stroke="#666" stroke-width="0.4" />
<text x="435.4" y="51.6" font-size="2.8" fill="#1f1f1f" text-anchor="middle" stroke="#1f1f1f" stroke-width="0.12" >10</text>
<line x1="445.4" y1="47.5" x2="445.4" y2="48.7" stroke="#666" stroke-width="0.4" />
<text x="445.4" y="51.6" font-size="2.8" fill="#1f1f1f" text-anchor="middle" stroke="#1f1f1f" stroke-width="0.12" >10</text>
<line x1="455.4" y1="47.5" x2="455.4" y2="48.7" stroke="#666" stroke-width="0.4" />
<text x="455.4" y="51.6" font-size="2.8" fill="#1f1f1f" text-anchor="middle" stroke="#1f1f1f" stroke-width="0.12" >10</text>
<rect x="417.4" y="17.4" width="12.0" height="29.9" fill="none" stroke="#555" stroke-width="0.5" />
<line x1="417.4" y1="38.1" x2="429.4" y2="38.1" stroke="#555" stroke-width="0.5" />
<rect x="430.1" y="18.0" width="21.299999999999955" height="29.299999999999997" fill="none" stroke="#555" stroke-width="0.5" />
<text x="418.2" y="17.099999999999998" font-size="2.5" fill="#1f1f1f" stroke="#1f1f1f" stroke-width="0.12" >P5</text>
<text x="440.0" y="33.0" font-size="2.6" fill="#161616" text-anchor="middle" stroke="#161616" stroke-width="0.12" >P4</text>
<text x="416" y="54.6" font-size="2.5" fill="#555" text-anchor="middle" stroke="#555" stroke-width="0.12" >-212</text>
<ellipse cx="423.8" cy="32.4" rx="3.0" ry="4.0" fill="#8a80e0" opacity="0.55" filter="url(#b1)"/>
<ellipse cx="423.7" cy="32.3" rx="2.0" ry="2.3" fill="#3a2c98" filter="url(#b1)"/>
<g filter="url(#b3)" opacity="0.85">
<circle cx="421.79" cy="30.52" r="0.42" fill="#2a1c80" />
<circle cx="427.03" cy="37.08" r="0.42" fill="#3a2a90" />
<circle cx="424.28" cy="33.35" r="0.42" fill="#4a3cb0" />
<circle cx="425.22" cy="37.26" r="0.42" fill="#2a1c80" />
<circle cx="423.97" cy="31.20" r="0.42" fill="#2a1c80" />
<circle cx="423.48" cy="30.51" r="0.42" fill="#3a2a90" />
<circle cx="425.92" cy="27.62" r="0.42" fill="#4a3cb0" />
<circle cx="425.56" cy="30.25" r="0.42" fill="#5a4cc0" />
<circle cx="425.04" cy="32.35" r="0.42" fill="#3a2a90" />
<circle cx="424.25" cy="31.54" r="0.42" fill="#4a3cb0" />
<circle cx="424.63" cy="33.89" r="0.42" fill="#4a3cb0" />
<circle cx="424.54" cy="29.77" r="0.42" fill="#4a3cb0" />
<circle cx="423.15" cy="33.51" r="0.42" fill="#2a1c80" />
<circle cx="425.14" cy="27.97" r="0.42" fill="#4a3cb0" />
<circle cx="426.80" cy="31.50" r="0.42" fill="#4a3cb0" />
<circle cx="425.65" cy="32.68" r="0.42" fill="#4a3cb0" />
<circle cx="421.67" cy="30.17" r="0.42" fill="#5a4cc0" />
<circle cx="422.76" cy="29.92" r="0.42" fill="#4a3cb0" />
<circle cx="423.43" cy="35.12" r="0.42" fill="#3a2a90" />
<circle cx="425.81" cy="30.46" r="0.42" fill="#2a1c80" />
<circle cx="423.44" cy="36.06" r="0.42" fill="#4a3cb0" />
<circle cx="424.29" cy="31.41" r="0.42" fill="#3a2a90" />
<circle cx="425.37" cy="30.89" r="0.42" fill="#4a3cb0" />
<circle cx="421.03" cy="30.77" r="0.42" fill="#3a2a90" />
<circle cx="426.06" cy="37.14" r="0.42" fill="#5a4cc0" />
<circle cx="425.36" cy="33.64" r="0.42" fill="#3a2a90" />
<circle cx="426.33" cy="32.48" r="0.42" fill="#2a1c80" />
<circle cx="424.67" cy="31.81" r="0.42" fill="#2a1c80" />
<circle cx="425.49" cy="33.08" r="0.42" fill="#4a3cb0" />
<circle cx="420.32" cy="33.68" r="0.42" fill="#5a4cc0" />
<circle cx="423.39" cy="30.78" r="0.42" fill="#5a4cc0" />
<circle cx="421.53" cy="32.73" r="0.42" fill="#2a1c80" />
<circle cx="423.57" cy="32.35" r="0.42" fill="#5a4cc0" />
<circle cx="427.09" cy="33.20" r="0.42" fill="#5a4cc0" />
<circle cx="423.37" cy="36.27" r="0.42" fill="#4a3cb0" />
<circle cx="426.29" cy="32.14" r="0.42" fill="#3a2a90" />
<circle cx="423.32" cy="30.32" r="0.42" fill="#5a4cc0" />
<circle cx="422.66" cy="34.48" r="0.42" fill="#5a4cc0" />
<circle cx="426.11" cy="28.37" r="0.42" fill="#4a3cb0" />
<circle cx="420.86" cy="28.85" r="0.42" fill="#5a4cc0" />
<circle cx="422.65" cy="35.49" r="0.42" fill="#5a4cc0" />
<circle cx="422.66" cy="33.37" r="0.42" fill="#5a4cc0" />
<circle cx="423.47" cy="36.28" r="0.42" fill="#3a2a90" />
<circle cx="421.78" cy="35.88" r="0.42" fill="#3a2a90" />
<circle cx="423.38" cy="32.72" r="0.42" fill="#5a4cc0" />
<circle cx="422.67" cy="32.30" r="0.42" fill="#2a1c80" />
<circle cx="423.08" cy="35.62" r="0.42" fill="#4a3cb0" />
<circle cx="423.77" cy="32.10" r="0.42" fill="#2a1c80" />
<circle cx="424.52" cy="30.25" r="0.42" fill="#2a1c80" />
<circle cx="424.35" cy="28.70" r="0.42" fill="#4a3cb0" />
<circle cx="423.66" cy="29.71" r="0.42" fill="#4a3cb0" />
<circle cx="424.69" cy="30.75" r="0.42" fill="#5a4cc0" />
<circle cx="423.87" cy="32.96" r="0.42" fill="#4a3cb0" />
<circle cx="424.70" cy="30.55" r="0.42" fill="#3a2a90" />
<circle cx="423.45" cy="33.39" r="0.42" fill="#3a2a90" />
<circle cx="425.17" cy="32.92" r="0.42" fill="#4a3cb0" />
<circle cx="425.20" cy="31.22" r="0.42" fill="#2a1c80" />
<circle cx="421.99" cy="32.44" r="0.42" fill="#2a1c80" />
<circle cx="425.06" cy="34.60" r="0.42" fill="#5a4cc0" />
<circle cx="425.61" cy="34.82" r="0.42" fill="#4a3cb0" />
<circle cx="425.78" cy="30.09" r="0.42" fill="#2a1c80" />
<circle cx="426.50" cy="32.40" r="0.42" fill="#4a3cb0" />
<circle cx="422.77" cy="30.13" r="0.42" fill="#2a1c80" />
<circle cx="422.70" cy="32.88" r="0.42" fill="#5a4cc0" />
<circle cx="423.07" cy="35.06" r="0.42" fill="#3a2a90" />
<circle cx="423.95" cy="34.11" r="0.42" fill="#4a3cb0" />
<circle cx="424.31" cy="33.88" r="0.42" fill="#3a2a90" />
<circle cx="424.74" cy="33.68" r="0.42" fill="#5a4cc0" />
<circle cx="425.37" cy="31.55" r="0.42" fill="#3a2a90" />
</g>
<g filter="url(#b3)" opacity="0.6">
<circle cx="425.29" cy="46.17" r="0.42" fill="#a8dcb0" />
<circle cx="424.05" cy="43.40" r="0.42" fill="#a8dcb0" />
<circle cx="424.76" cy="42.64" r="0.42" fill="#a8dcb0" />
<circle cx="424.68" cy="38.41" r="0.42" fill="#a8dcb0" />
<circle cx="423.95" cy="44.79" r="0.42" fill="#a8dcb0" />
<circle cx="423.94" cy="38.60" r="0.42" fill="#a8dcb0" />
<circle cx="421.78" cy="40.83" r="0.42" fill="#8fd09a" />
<circle cx="423.40" cy="42.78" r="0.42" fill="#8fd09a" />
<circle cx="423.99" cy="40.91" r="0.42" fill="#8fd09a" />
<circle cx="424.54" cy="43.24" r="0.42" fill="#a8dcb0" />
<circle cx="424.94" cy="41.13" r="0.42" fill="#8fd09a" />
<circle cx="422.73" cy="40.30" r="0.42" fill="#8fd09a" />
<circle cx="422.90" cy="39.83" r="0.42" fill="#a8dcb0" />
<circle cx="424.92" cy="41.84" r="0.42" fill="#8fd09a" />
<circle cx="423.02" cy="43.20" r="0.42" fill="#a8dcb0" />
<circle cx="424.20" cy="44.39" r="0.42" fill="#a8dcb0" />
<circle cx="422.18" cy="38.91" r="0.42" fill="#a8dcb0" />
<circle cx="424.70" cy="39.41" r="0.42" fill="#8fd09a" />
</g>
<text x="438.8" y="60.0" font-size="3.6" fill="#111" text-anchor="middle" stroke="#111" stroke-width="0.12" >APC-A</text>
<text x="438.8" y="68.63" font-size="6.8" fill="#1b1b1b" text-anchor="middle" textLength="20" lengthAdjust="spacingAndGlyphs" stroke="#1b1b1b" stroke-width="0.16" >CADM1</text>
<rect x="417.2" y="83.3" width="44.8" height="44.1" fill="#fff" stroke="#8a8a8a" stroke-width="0.5" />
<text font-size="6.8" fill="#1b1b1b" text-anchor="middle" textLength="10.2" lengthAdjust="spacingAndGlyphs" stroke="#1b1b1b" stroke-width="0.16" transform="translate(399.8,107) rotate(-90)" >CD7</text>
<text font-size="3.6" fill="#111" text-anchor="middle" stroke="#111" stroke-width="0.12" transform="translate(408.5,106.5) rotate(-90)" >PE-A</text>
<line x1="416.0" y1="87.3" x2="417.2" y2="87.3" stroke="#666" stroke-width="0.4" />
<text x="415.4" y="88.3" font-size="2.8" fill="#1f1f1f" text-anchor="end" stroke="#1f1f1f" stroke-width="0.12" >10</text>
<line x1="416.0" y1="95.3" x2="417.2" y2="95.3" stroke="#666" stroke-width="0.4" />
<text x="415.4" y="96.3" font-size="2.8" fill="#1f1f1f" text-anchor="end" stroke="#1f1f1f" stroke-width="0.12" >10</text>
<line x1="416.0" y1="103.8" x2="417.2" y2="103.8" stroke="#666" stroke-width="0.4" />
<text x="415.4" y="104.8" font-size="2.8" fill="#1f1f1f" text-anchor="end" stroke="#1f1f1f" stroke-width="0.12" >10</text>
<line x1="416.0" y1="112.3" x2="417.2" y2="112.3" stroke="#666" stroke-width="0.4" />
<text x="415.4" y="113.3" font-size="2.8" fill="#1f1f1f" text-anchor="end" stroke="#1f1f1f" stroke-width="0.12" >10</text>
<line x1="416.0" y1="119.3" x2="417.2" y2="119.3" stroke="#666" stroke-width="0.4" />
<text x="415.4" y="120.3" font-size="2.8" fill="#1f1f1f" text-anchor="end" stroke="#1f1f1f" stroke-width="0.12" >10</text>
<line x1="416.0" y1="123.3" x2="417.2" y2="123.3" stroke="#666" stroke-width="0.4" />
<text x="415.4" y="124.3" font-size="2.8" fill="#1f1f1f" text-anchor="end" stroke="#1f1f1f" stroke-width="0.12" >10</text>
<line x1="422.2" y1="127.4" x2="422.2" y2="128.6" stroke="#666" stroke-width="0.4" />
<text x="422.2" y="131.5" font-size="2.8" fill="#1f1f1f" text-anchor="middle" stroke="#1f1f1f" stroke-width="0.12" >10</text>
<line x1="426.7" y1="127.4" x2="426.7" y2="128.6" stroke="#666" stroke-width="0.4" />
<text x="426.7" y="131.5" font-size="2.8" fill="#1f1f1f" text-anchor="middle" stroke="#1f1f1f" stroke-width="0.12" >10</text>
<line x1="435.2" y1="127.4" x2="435.2" y2="128.6" stroke="#666" stroke-width="0.4" />
<text x="435.2" y="131.5" font-size="2.8" fill="#1f1f1f" text-anchor="middle" stroke="#1f1f1f" stroke-width="0.12" >10</text>
<line x1="445.2" y1="127.4" x2="445.2" y2="128.6" stroke="#666" stroke-width="0.4" />
<text x="445.2" y="131.5" font-size="2.8" fill="#1f1f1f" text-anchor="middle" stroke="#1f1f1f" stroke-width="0.12" >10</text>
<line x1="455.2" y1="127.4" x2="455.2" y2="128.6" stroke="#666" stroke-width="0.4" />
<text x="455.2" y="131.5" font-size="2.8" fill="#1f1f1f" text-anchor="middle" stroke="#1f1f1f" stroke-width="0.12" >10</text>
<rect x="417.2" y="98.4" width="12.199999999999989" height="28.599999999999994" fill="none" stroke="#555" stroke-width="0.5" />
<line x1="417.2" y1="118.1" x2="429.4" y2="118.1" stroke="#555" stroke-width="0.5" />
<rect x="430.1" y="99.0" width="21.299999999999955" height="27.999999999999993" fill="none" stroke="#555" stroke-width="0.5" />
<text x="418.0" y="98.10000000000001" font-size="2.5" fill="#1f1f1f" stroke="#1f1f1f" stroke-width="0.12" >P5</text>
<text x="439.3" y="113.2" font-size="2.6" fill="#161616" text-anchor="middle" stroke="#161616" stroke-width="0.12" >P4</text>
<text x="416" y="134.6" font-size="2.5" fill="#555" text-anchor="middle" stroke="#555" stroke-width="0.12" >-79</text>
<ellipse cx="439.4" cy="120.2" rx="3.2" ry="4.4" fill="#eaa6d6" opacity="0.7" filter="url(#b1)"/>
<g filter="url(#b3)" opacity="0.85">
<circle cx="438.13" cy="119.61" r="0.42" fill="#e78ac8" />
<circle cx="438.57" cy="118.48" r="0.42" fill="#d0409c" />
<circle cx="438.25" cy="121.96" r="0.42" fill="#e06ab8" />
<circle cx="438.02" cy="120.17" r="0.42" fill="#e78ac8" />
<circle cx="439.29" cy="120.83" r="0.42" fill="#d0409c" />
<circle cx="439.85" cy="117.49" r="0.42" fill="#c83a9a" />
<circle cx="439.26" cy="120.52" r="0.42" fill="#e06ab8" />
<circle cx="439.48" cy="121.48" r="0.42" fill="#c83a9a" />
<circle cx="438.89" cy="124.89" r="0.42" fill="#c83a9a" />
<circle cx="439.47" cy="117.53" r="0.42" fill="#c83a9a" />
<circle cx="438.71" cy="117.47" r="0.42" fill="#e06ab8" />
<circle cx="438.79" cy="116.74" r="0.42" fill="#d0409c" />
<circle cx="437.53" cy="119.80" r="0.42" fill="#c83a9a" />
<circle cx="438.07" cy="117.71" r="0.42" fill="#c83a9a" />
<circle cx="438.78" cy="116.47" r="0.42" fill="#c83a9a" />
<circle cx="439.66" cy="122.32" r="0.42" fill="#d0409c" />
<circle cx="438.02" cy="121.27" r="0.42" fill="#e78ac8" />
<circle cx="438.53" cy="119.67" r="0.42" fill="#c83a9a" />
<circle cx="438.61" cy="114.34" r="0.42" fill="#c83a9a" />
<circle cx="438.19" cy="116.91" r="0.42" fill="#e78ac8" />
<circle cx="439.04" cy="120.07" r="0.42" fill="#e06ab8" />
<circle cx="440.47" cy="118.99" r="0.42" fill="#c83a9a" />
<circle cx="439.18" cy="119.21" r="0.42" fill="#c83a9a" />
<circle cx="438.62" cy="119.73" r="0.42" fill="#e78ac8" />
<circle cx="438.36" cy="120.70" r="0.42" fill="#d0409c" />
<circle cx="441.33" cy="119.68" r="0.42" fill="#d0409c" />
<circle cx="436.13" cy="122.54" r="0.42" fill="#e78ac8" />
<circle cx="437.58" cy="122.24" r="0.42" fill="#d0409c" />
<circle cx="440.73" cy="115.58" r="0.42" fill="#d0409c" />
<circle cx="436.68" cy="116.37" r="0.42" fill="#e06ab8" />
<circle cx="439.97" cy="121.86" r="0.42" fill="#e78ac8" />
<circle cx="439.20" cy="120.42" r="0.42" fill="#d0409c" />
<circle cx="438.60" cy="119.53" r="0.42" fill="#d0409c" />
<circle cx="439.66" cy="123.68" r="0.42" fill="#e06ab8" />
<circle cx="439.59" cy="118.92" r="0.42" fill="#e06ab8" />
<circle cx="439.59" cy="115.33" r="0.42" fill="#e06ab8" />
<circle cx="440.81" cy="114.84" r="0.42" fill="#c83a9a" />
<circle cx="438.11" cy="122.32" r="0.42" fill="#c83a9a" />
<circle cx="441.56" cy="121.62" r="0.42" fill="#d0409c" />
<circle cx="437.09" cy="120.81" r="0.42" fill="#c83a9a" />
<circle cx="438.72" cy="117.04" r="0.42" fill="#c83a9a" />
<circle cx="439.25" cy="120.06" r="0.42" fill="#c83a9a" />
<circle cx="438.96" cy="122.86" r="0.42" fill="#d0409c" />
<circle cx="440.51" cy="125.78" r="0.42" fill="#e06ab8" />
<circle cx="440.10" cy="120.15" r="0.42" fill="#e78ac8" />
<circle cx="440.00" cy="115.92" r="0.42" fill="#e78ac8" />
<circle cx="440.38" cy="123.79" r="0.42" fill="#e06ab8" />
<circle cx="441.12" cy="123.73" r="0.42" fill="#e78ac8" />
<circle cx="442.21" cy="121.99" r="0.42" fill="#c83a9a" />
<circle cx="437.69" cy="116.34" r="0.42" fill="#c83a9a" />
<circle cx="438.85" cy="120.61" r="0.42" fill="#c83a9a" />
<circle cx="439.32" cy="123.20" r="0.42" fill="#e78ac8" />
<circle cx="439.34" cy="123.46" r="0.42" fill="#d0409c" />
<circle cx="437.47" cy="123.43" r="0.42" fill="#e78ac8" />
<circle cx="440.34" cy="123.95" r="0.42" fill="#e78ac8" />
<circle cx="436.12" cy="116.06" r="0.42" fill="#d0409c" />
<circle cx="441.29" cy="118.15" r="0.42" fill="#c83a9a" />
<circle cx="440.81" cy="122.93" r="0.42" fill="#d0409c" />
</g>
<text x="439.0" y="139.6" font-size="3.6" fill="#111" text-anchor="middle" stroke="#111" stroke-width="0.12" >APC-A</text>
<text x="438.8" y="149.43" font-size="6.8" fill="#1b1b1b" text-anchor="middle" textLength="20" lengthAdjust="spacingAndGlyphs" stroke="#1b1b1b" stroke-width="0.16" >CADM1</text>
<path d="M466.2 23.900000000000002 L474.2 23.900000000000002 L474.2 21.3 L480.7 26.6 L474.2 31.900000000000002 L474.2 29.3 L466.2 29.3 Z" fill="#111"/>
<path d="M466.2 104.8 L474.2 104.8 L474.2 102.2 L480.7 107.5 L474.2 112.8 L474.2 110.2 L466.2 110.2 Z" fill="#111"/>
<text x="496" y="24.71" font-size="7.0" fill="#1b1b1b" text-anchor="middle" textLength="23" lengthAdjust="spacingAndGlyphs" stroke="#1b1b1b" stroke-width="0.16" >Western</text>
<text x="496.3" y="33.91" font-size="7.0" fill="#1b1b1b" text-anchor="middle" textLength="21.5" lengthAdjust="spacingAndGlyphs" stroke="#1b1b1b" stroke-width="0.16" >Blotting</text>
<text x="496" y="105.11" font-size="7.0" fill="#1b1b1b" text-anchor="middle" textLength="23" lengthAdjust="spacingAndGlyphs" stroke="#1b1b1b" stroke-width="0.16" >Western</text>
<text x="496.3" y="114.41" font-size="7.0" fill="#1b1b1b" text-anchor="middle" textLength="21.5" lengthAdjust="spacingAndGlyphs" stroke="#1b1b1b" stroke-width="0.16" >Blotting</text>
</g>
<g id="panelC">
<text x="66.7" y="176.4" font-size="11.6" fill="#000" font-weight="bold" stroke="#000" stroke-width="0.3">C</text>
<line x1="125.4" y1="178.5" x2="125.4" y2="269.5" stroke="#303030" stroke-width="1.4" />
<line x1="124.7" y1="268.8" x2="188.2" y2="268.8" stroke="#303030" stroke-width="1.4" />
<line x1="122.4" y1="268.8" x2="125.4" y2="268.8" stroke="#303030" stroke-width="1.0" />
<text x="119.0" y="271.09" font-size="6.4" fill="#1b1b1b" text-anchor="end" stroke="#1b1b1b" stroke-width="0.16" >0.0</text>
<line x1="122.4" y1="252.3" x2="125.4" y2="252.3" stroke="#303030" stroke-width="1.0" />
<text x="119.0" y="254.59" font-size="6.4" fill="#1b1b1b" text-anchor="end" stroke="#1b1b1b" stroke-width="0.16" >0.2</text>
<line x1="122.4" y1="235.8" x2="125.4" y2="235.8" stroke="#303030" stroke-width="1.0" />
<text x="119.0" y="238.09" font-size="6.4" fill="#1b1b1b" text-anchor="end" stroke="#1b1b1b" stroke-width="0.16" >0.4</text>
<line x1="122.4" y1="219.3" x2="125.4" y2="219.3" stroke="#303030" stroke-width="1.0" />
<text x="119.0" y="221.59" font-size="6.4" fill="#1b1b1b" text-anchor="end" stroke="#1b1b1b" stroke-width="0.16" >0.6</text>
<line x1="122.4" y1="202.8" x2="125.4" y2="202.8" stroke="#303030" stroke-width="1.0" />
<text x="119.0" y="205.09" font-size="6.4" fill="#1b1b1b" text-anchor="end" stroke="#1b1b1b" stroke-width="0.16" >0.8</text>
<line x1="122.4" y1="186.3" x2="125.4" y2="186.3" stroke="#303030" stroke-width="1.0" />
<text x="119.0" y="188.59" font-size="6.4" fill="#1b1b1b" text-anchor="end" stroke="#1b1b1b" stroke-width="0.16" >1.0</text>
<line x1="146.3" y1="268.8" x2="146.3" y2="271.8" stroke="#303030" stroke-width="1.1" />
<line x1="167.5" y1="268.8" x2="167.5" y2="271.8" stroke="#303030" stroke-width="1.1" />
<text font-size="9.2" fill="#1a1a1a" textLength="50" lengthAdjust="spacingAndGlyphs" transform="translate(82.6,249.4) rotate(-90)" stroke="#1a1a1a" stroke-width="0.28">DUSP5 expression</text>
<text font-size="9.2" fill="#1a1a1a" textLength="44" lengthAdjust="spacingAndGlyphs" transform="translate(93.9,246.2) rotate(-90)" stroke="#1a1a1a" stroke-width="0.28">of CADM1<tspan dy="-2.6" font-size="5">+</tspan><tspan dy="2.6"> T cell</tspan></text>
<text font-size="9.2" fill="#1a1a1a" textLength="69.2" lengthAdjust="spacingAndGlyphs" transform="translate(105.3,258.4) rotate(-90)" stroke="#1a1a1a" stroke-width="0.28">(vs paired CADM1<tspan dy="-2.6" font-size="5">−</tspan><tspan dy="2.6"> T cell)</tspan></text>
<line x1="147" y1="180.8" x2="167.8" y2="180.8" stroke="#555" stroke-width="1.1" />
<text x="147.6" y="176.49" font-size="6.4" fill="#303030" stroke="#303030" stroke-width="0.16" ><tspan font-style="italic">P</tspan> &lt; .05</text>
<line x1="146.3" y1="186.3" x2="167.5" y2="234.15" stroke="#f3b21a" stroke-width="1.05" opacity="0.9"/>
<line x1="146.3" y1="186.3" x2="167.5" y2="241.57500000000002" stroke="#f5c12a" stroke-width="1.05" opacity="0.9"/>
<line x1="146.3" y1="186.3" x2="167.5" y2="230.85000000000002" stroke="#1f3f80" stroke-width="1.05" opacity="0.9"/>
<line x1="146.3" y1="186.3" x2="167.5" y2="221.775" stroke="#3c9a3a" stroke-width="1.05" opacity="0.9"/>
<line x1="146.3" y1="186.3" x2="167.5" y2="268.8" stroke="#4caf50" stroke-width="1.05" opacity="0.9"/>
<line x1="146.3" y1="186.3" x2="167.5" y2="231.675" stroke="#3fa04a" stroke-width="1.05" opacity="0.9"/>
<line x1="146.3" y1="186.3" x2="167.5" y2="237.45000000000002" stroke="#5aa84a" stroke-width="1.05" opacity="0.9"/>
<circle cx="167.50" cy="230.85" r="0.9" fill="#1a2f60" />
<circle cx="167.50" cy="221.78" r="0.9" fill="#2a7a2a" />
<circle cx="167.50" cy="268.80" r="0.9" fill="#4caf50" />
<circle cx="167.50" cy="231.68" r="0.9" fill="#3fa04a" />
<circle cx="167.50" cy="237.45" r="0.9" fill="#2f6a2f" />
<circle cx="167.50" cy="234.15" r="0.9" fill="#f3b21a" />
<circle cx="167.50" cy="241.58" r="0.9" fill="#f5c12a" />
<circle cx="146.30" cy="186.30" r="1.0" fill="#f5c12a" />
<line x1="203.8" y1="192.6" x2="211.3" y2="192.6" stroke="#1f3f80" stroke-width="0.8" />
<circle cx="207.50" cy="192.60" r="1.0" fill="#1f3f80" />
<text x="215" y="194.57" font-size="6.35" fill="#1f1f1f" stroke="#1f1f1f" stroke-width="0.16" >carrier_1</text>
<line x1="203.8" y1="203.1" x2="211.3" y2="203.1" stroke="#3c9a3a" stroke-width="0.8" />
<circle cx="207.50" cy="203.10" r="1.0" fill="#3c9a3a" />
<text x="215" y="205.07" font-size="6.35" fill="#1f1f1f" stroke="#1f1f1f" stroke-width="0.16" >smoldering_1</text>
<line x1="203.8" y1="213.6" x2="211.3" y2="213.6" stroke="#4caf50" stroke-width="0.8" />
<circle cx="207.50" cy="213.60" r="1.0" fill="#4caf50" />
<text x="215" y="215.57" font-size="6.35" fill="#1f1f1f" stroke="#1f1f1f" stroke-width="0.16" >smoldering_2</text>
<line x1="203.8" y1="224.1" x2="211.3" y2="224.1" stroke="#3fa04a" stroke-width="0.8" />
<circle cx="207.50" cy="224.10" r="1.0" fill="#3fa04a" />
<text x="215" y="226.07" font-size="6.35" fill="#1f1f1f" stroke="#1f1f1f" stroke-width="0.16" >smoldering_3</text>
<line x1="203.8" y1="234.6" x2="211.3" y2="234.6" stroke="#5aa84a" stroke-width="0.8" />
<circle cx="207.50" cy="234.60" r="1.0" fill="#5aa84a" />
<text x="215" y="236.57" font-size="6.35" fill="#1f1f1f" stroke="#1f1f1f" stroke-width="0.16" >smoldering_4</text>
<line x1="203.8" y1="245.1" x2="211.3" y2="245.1" stroke="#f3b21a" stroke-width="0.8" />
<circle cx="207.50" cy="245.10" r="1.0" fill="#f3b21a" />
<text x="215" y="247.07" font-size="6.35" fill="#1f1f1f" stroke="#1f1f1f" stroke-width="0.16" >chronic_1</text>
<line x1="203.8" y1="255.6" x2="211.3" y2="255.6" stroke="#f5c12a" stroke-width="0.8" />
<circle cx="207.50" cy="255.60" r="1.0" fill="#f5c12a" />
<text x="215" y="257.57" font-size="6.35" fill="#1f1f1f" stroke="#1f1f1f" stroke-width="0.16" >chronic_2</text>
<text font-size="6.7" fill="#1f1f1f" text-anchor="end" stroke="#1f1f1f" stroke-width="0.16" transform="translate(147.0,275.8) rotate(-45)" >Paired CADM1-</text>
<text font-size="6.6" fill="#1f1f1f" text-anchor="end" stroke="#1f1f1f" stroke-width="0.16" transform="translate(139.8,295.2) rotate(-45)" >cells</text>
<text font-size="6.8" fill="#1f1f1f" text-anchor="end" stroke="#1f1f1f" stroke-width="0.16" transform="translate(167.8,277.2) rotate(-45)" >CADM1+</text>
<text font-size="6.6" fill="#1f1f1f" text-anchor="end" stroke="#1f1f1f" stroke-width="0.16" transform="translate(167.6,288.6) rotate(-45)" >cells</text>
<line x1="325.1" y1="178" x2="325.1" y2="269.5" stroke="#303030" stroke-width="1.4" />
<line x1="324.4" y1="268.8" x2="401.3" y2="268.8" stroke="#303030" stroke-width="1.4" />
<line x1="322.0" y1="268.8" x2="325.1" y2="268.8" stroke="#303030" stroke-width="1.0" />
<text x="318.4" y="271.09" font-size="6.4" fill="#1b1b1b" text-anchor="end" stroke="#1b1b1b" stroke-width="0.16" >0.0</text>
<line x1="322.0" y1="251.04000000000002" x2="325.1" y2="251.04000000000002" stroke="#303030" stroke-width="1.0" />
<text x="318.4" y="253.33" font-size="6.4" fill="#1b1b1b" text-anchor="end" stroke="#1b1b1b" stroke-width="0.16" >0.5</text>
<line x1="322.0" y1="233.28" x2="325.1" y2="233.28" stroke="#303030" stroke-width="1.0" />
<text x="318.4" y="235.57" font-size="6.4" fill="#1b1b1b" text-anchor="end" stroke="#1b1b1b" stroke-width="0.16" >1.0</text>
<line x1="322.0" y1="215.52" x2="325.1" y2="215.52" stroke="#303030" stroke-width="1.0" />
<text x="318.4" y="217.81" font-size="6.4" fill="#1b1b1b" text-anchor="end" stroke="#1b1b1b" stroke-width="0.16" >1.5</text>
<line x1="322.0" y1="197.76" x2="325.1" y2="197.76" stroke="#303030" stroke-width="1.0" />
<text x="318.4" y="200.05" font-size="6.4" fill="#1b1b1b" text-anchor="end" stroke="#1b1b1b" stroke-width="0.16" >2.0</text>
<line x1="322.0" y1="180.0" x2="325.1" y2="180.0" stroke="#303030" stroke-width="1.0" />
<text x="318.4" y="182.29" font-size="6.4" fill="#1b1b1b" text-anchor="end" stroke="#1b1b1b" stroke-width="0.16" >2.5</text>
<line x1="343.8" y1="268.8" x2="343.8" y2="271.8" stroke="#303030" stroke-width="1.1" />
<line x1="362.5" y1="268.8" x2="362.5" y2="271.8" stroke="#303030" stroke-width="1.1" />
<line x1="381.3" y1="268.8" x2="381.3" y2="271.8" stroke="#303030" stroke-width="1.1" />
<line x1="400" y1="268.8" x2="400" y2="271.8" stroke="#303030" stroke-width="1.1" />
<text font-size="9.2" fill="#1a1a1a" textLength="50.6" lengthAdjust="spacingAndGlyphs" transform="translate(293.2,248.9) rotate(-90)" stroke="#1a1a1a" stroke-width="0.28">DUSP5 expression</text>
<text font-size="9.2" fill="#1a1a1a" textLength="59.8" lengthAdjust="spacingAndGlyphs" transform="translate(304.6,252.4) rotate(-90)" stroke="#1a1a1a" stroke-width="0.28">(normalized by ACTB)</text>
<path d="M342.3 208.0 L345.3 208.0 L343.8 205.3 Z" fill="#a8a8a8"/>
<circle cx="342.50" cy="221.30" r="1.2" fill="#b0b0b0" />
<rect x="343.2" y="225.5" width="2.6" height="2.6" fill="#a8a8a8" />
<rect x="361.7" y="197.20000000000002" width="3.2" height="3.2" fill="#f4c21a" />
<path d="M359.7 221.28 L362.90000000000003 221.28 L361.3 218.4 Z" fill="#f4c21a"/>
<path d="M378.4 249.48 L381.6 249.48 L380 246.6 Z" fill="#f4c21a"/>
<rect x="380.4" y="244.20000000000002" width="3.2" height="3.2" fill="#f4c21a" />
<text x="302" y="280.29" font-size="6.4" fill="#1f1f1f" stroke="#1f1f1f" stroke-width="0.16" >CADM1</text>
<text x="343.8" y="280.04" font-size="5.7" fill="#1f1f1f" text-anchor="middle" stroke="#1f1f1f" stroke-width="0.16" >(−)</text>
<text x="362.5" y="280.04" font-size="5.7" fill="#1f1f1f" text-anchor="middle" stroke="#1f1f1f" stroke-width="0.16" >(−)</text>
<text x="381.3" y="280.04" font-size="5.7" fill="#1f1f1f" text-anchor="middle" stroke="#1f1f1f" stroke-width="0.16" >(+)</text>
<line x1="340" y1="285.2" x2="348" y2="285.2" stroke="#333" stroke-width="0.9" />
<line x1="358" y1="285.2" x2="385.6" y2="285.2" stroke="#333" stroke-width="0.9" />
<text font-size="6.3" fill="#1f1f1f" text-anchor="end" stroke="#1f1f1f" stroke-width="0.16" transform="translate(345.6,292.2) rotate(-45)" >Normal</text>
<text font-size="6.3" fill="#1f1f1f" text-anchor="end" stroke="#1f1f1f" stroke-width="0.16" transform="translate(372.0,295.4) rotate(-45)" >ATL</text>
<text font-size="6.3" fill="#1f1f1f" text-anchor="end" stroke="#1f1f1f" stroke-width="0.16" transform="translate(383.2,298.6) rotate(-45)" >patient</text>
<path d="M419.35 199.72 L421.65 199.72 L420.5 197.65 Z" fill="#a8a8a8"/>
<text x="425" y="200.83" font-size="6.5" fill="#1f1f1f" stroke="#1f1f1f" stroke-width="0.16" >normal_1</text>
<rect x="419.5" y="208.3" width="2.0" height="2.0" fill="#b0b0b0" />
<text x="425" y="211.33" font-size="6.5" fill="#1f1f1f" stroke="#1f1f1f" stroke-width="0.16" >normal_2</text>
<rect x="419.4" y="218.70000000000002" width="2.2" height="2.2" fill="#a8a8a8" />
<text x="425" y="221.83" font-size="6.5" fill="#1f1f1f" stroke="#1f1f1f" stroke-width="0.16" >normal_3</text>
<path d="M419.2 237.54 L421.8 237.54 L420.5 235.2 Z" fill="#f4c21a"/>
<text x="425" y="238.53" font-size="6.5" fill="#1f1f1f" stroke="#1f1f1f" stroke-width="0.16" >chronic_1</text>
<rect x="419.1" y="245.9" width="2.8" height="2.8" fill="#f4c21a" />
<text x="425" y="249.33" font-size="6.5" fill="#1f1f1f" stroke="#1f1f1f" stroke-width="0.16" >chronic_2</text>
</g>
<g id="panelD">
<text x="36.9" y="342.3" font-size="11.6" fill="#000" font-weight="bold" stroke="#000" stroke-width="0.3">D</text>
<line x1="95.5" y1="347.5" x2="95.5" y2="358.6" stroke="#303030" stroke-width="1.4" />
<line x1="95.5" y1="361.8" x2="95.5" y2="443.7" stroke="#303030" stroke-width="1.4" />
<line x1="92.8" y1="360.0" x2="98.4" y2="357.0" stroke="#222" stroke-width="0.9" />
<line x1="92.8" y1="363.0" x2="98.4" y2="360.0" stroke="#222" stroke-width="0.9" />
<line x1="94.8" y1="443" x2="194.6" y2="443" stroke="#303030" stroke-width="1.4" />
<line x1="92.5" y1="443" x2="95.5" y2="443" stroke="#303030" stroke-width="1.0" />
<text x="88.6" y="445.22" font-size="6.2" fill="#1b1b1b" text-anchor="end" stroke="#1b1b1b" stroke-width="0.16" >0</text>
<line x1="92.5" y1="428.25" x2="95.5" y2="428.25" stroke="#303030" stroke-width="1.0" />
<text x="88.6" y="430.47" font-size="6.2" fill="#1b1b1b" text-anchor="end" stroke="#1b1b1b" stroke-width="0.16" >0.2</text>
<line x1="92.5" y1="413.5" x2="95.5" y2="413.5" stroke="#303030" stroke-width="1.0" />
<text x="88.6" y="415.72" font-size="6.2" fill="#1b1b1b" text-anchor="end" stroke="#1b1b1b" stroke-width="0.16" >0.4</text>
<line x1="92.5" y1="398.75" x2="95.5" y2="398.75" stroke="#303030" stroke-width="1.0" />
<text x="88.6" y="400.97" font-size="6.2" fill="#1b1b1b" text-anchor="end" stroke="#1b1b1b" stroke-width="0.16" >0.6</text>
<line x1="92.5" y1="384" x2="95.5" y2="384" stroke="#303030" stroke-width="1.0" />
<text x="88.6" y="386.22" font-size="6.2" fill="#1b1b1b" text-anchor="end" stroke="#1b1b1b" stroke-width="0.16" >0.8</text>
<line x1="92.5" y1="369.25" x2="95.5" y2="369.25" stroke="#303030" stroke-width="1.0" />
<text x="88.6" y="371.47" font-size="6.2" fill="#1b1b1b" text-anchor="end" stroke="#1b1b1b" stroke-width="0.16" >1</text>
<line x1="92.5" y1="354.5" x2="95.5" y2="354.5" stroke="#303030" stroke-width="1.0" />
<text x="88.6" y="356.72" font-size="6.2" fill="#1b1b1b" text-anchor="end" stroke="#1b1b1b" stroke-width="0.16" >5</text>
<text font-size="8.4" fill="#1a1a1a" textLength="65" lengthAdjust="spacingAndGlyphs" transform="translate(64.0,427.5) rotate(-90)" stroke="#1a1a1a" stroke-width="0.22"><tspan font-style="italic">DUSP5</tspan> gene expression</text>
<text font-size="8.4" fill="#1a1a1a" textLength="46" lengthAdjust="spacingAndGlyphs" transform="translate(74.8,417.5) rotate(-90)" stroke="#1a1a1a" stroke-width="0.22">(vs normal T cell)</text>
<rect x="98.69999999999999" y="370" width="3.8" height="73" fill="#1b4a86" />
<line x1="100.6" y1="443" x2="100.6" y2="446" stroke="#303030" stroke-width="1.1" />
<text font-size="6.6" fill="#1f1f1f" text-anchor="end" stroke="#1f1f1f" stroke-width="0.16" transform="translate(100.89999999999999,450.9) rotate(-45)" >Normal1</text>
<rect x="110.0" y="368.3" width="3.8" height="74.69999999999999" fill="#1b4a86" />
<line x1="111.9" y1="443" x2="111.9" y2="446" stroke="#303030" stroke-width="1.1" />
<text font-size="6.6" fill="#1f1f1f" text-anchor="end" stroke="#1f1f1f" stroke-width="0.16" transform="translate(112.2,450.9) rotate(-45)" >Normal2</text>
<line x1="122.7" y1="443" x2="122.7" y2="446" stroke="#303030" stroke-width="1.1" />
<text font-size="6.6" fill="#1f1f1f" text-anchor="end" stroke="#1f1f1f" stroke-width="0.16" transform="translate(123.0,450.9) rotate(-45)" >TL-Om1</text>
<rect x="132.0" y="436.3" width="3.8" height="6.699999999999989" fill="#c8102e" />
<line x1="133.9" y1="443" x2="133.9" y2="446" stroke="#303030" stroke-width="1.1" />
<text font-size="6.6" fill="#1f1f1f" text-anchor="end" stroke="#1f1f1f" stroke-width="0.16" transform="translate(134.20000000000002,450.9) rotate(-45)" >MT-1</text>
<rect x="143.0" y="429.5" width="3.8" height="13.5" fill="#c8102e" />
<line x1="144.9" y1="443" x2="144.9" y2="446" stroke="#303030" stroke-width="1.1" />
<text font-size="6.6" fill="#1f1f1f" text-anchor="end" stroke="#1f1f1f" stroke-width="0.16" transform="translate(145.20000000000002,450.9) rotate(-45)" >ATN-1</text>
<rect x="153.79999999999998" y="428.3" width="3.8" height="14.699999999999989" fill="#c8102e" />
<line x1="155.7" y1="443" x2="155.7" y2="446" stroke="#303030" stroke-width="1.1" />
<text font-size="6.6" fill="#1f1f1f" text-anchor="end" stroke="#1f1f1f" stroke-width="0.16" transform="translate(156.0,450.9) rotate(-45)" >MJ</text>
<rect x="164.79999999999998" y="420" width="3.8" height="23" fill="#c8102e" />
<line x1="166.7" y1="443" x2="166.7" y2="446" stroke="#303030" stroke-width="1.1" />
<text font-size="6.6" fill="#1f1f1f" text-anchor="end" stroke="#1f1f1f" stroke-width="0.16" transform="translate(167.0,450.9) rotate(-45)" >MT-4</text>
<rect x="175.7" y="396.3" width="3.8" height="46.69999999999999" fill="#c8102e" />
<line x1="177.6" y1="443" x2="177.6" y2="446" stroke="#303030" stroke-width="1.1" />
<text font-size="6.6" fill="#1f1f1f" text-anchor="end" stroke="#1f1f1f" stroke-width="0.16" transform="translate(177.9,450.9) rotate(-45)" >TL-Mor</text>
<rect x="187.0" y="352.5" width="3.8" height="90.5" fill="#c8102e" />
<line x1="188.9" y1="443" x2="188.9" y2="446" stroke="#303030" stroke-width="1.1" />
<text font-size="6.6" fill="#1f1f1f" text-anchor="end" stroke="#1f1f1f" stroke-width="0.16" transform="translate(189.20000000000002,450.9) rotate(-45)" >MT-2</text>
<path d="M186.4 363.9 L191.6 361.2 L191.6 362.6 L186.4 365.3 Z" fill="#fff"/>
<line x1="186.2" y1="363.5" x2="191.8" y2="360.6" stroke="#111" stroke-width="0.7" />
<line x1="186.2" y1="365.9" x2="191.8" y2="363.0" stroke="#111" stroke-width="0.7" />
</g>
<g id="panelE">
<text x="281.3" y="342.8" font-size="11.6" fill="#000" font-weight="bold" stroke="#000" stroke-width="0.3">E</text>
<rect x="308" y="355.2" width="105.8" height="13.6" fill="#f8f8f8" stroke="#4a4a4a" stroke-width="0.6" />
<rect x="308" y="372.3" width="105.8" height="12.5" fill="#f8f8f8" stroke="#4a4a4a" stroke-width="0.6" />
<text x="284.5" y="364.76" font-size="6.6" fill="#161616" textLength="20" lengthAdjust="spacingAndGlyphs" stroke="#161616" stroke-width="0.16" >DUSP5</text>
<text x="288" y="380.93" font-size="6.5" fill="#161616" stroke="#161616" stroke-width="0.16" >ACTB</text>
<text font-size="6.6" fill="#1f1f1f" stroke="#1f1f1f" stroke-width="0.16" transform="translate(312.20000000000005,353.4) rotate(-45)" >TL-Om1</text>
<text font-size="6.6" fill="#1f1f1f" stroke="#1f1f1f" stroke-width="0.16" transform="translate(327.3,353.4) rotate(-45)" >MT-1</text>
<text font-size="6.6" fill="#1f1f1f" stroke="#1f1f1f" stroke-width="0.16" transform="translate(342.40000000000003,353.4) rotate(-45)" >ATN-1</text>
<text font-size="6.6" fill="#1f1f1f" stroke="#1f1f1f" stroke-width="0.16" transform="translate(357.5,353.4) rotate(-45)" >MJ</text>
<text font-size="6.6" fill="#1f1f1f" stroke="#1f1f1f" stroke-width="0.16" transform="translate(372.6,353.4) rotate(-45)" >MT-4</text>
<text font-size="6.6" fill="#1f1f1f" stroke="#1f1f1f" stroke-width="0.16" transform="translate(387.70000000000005,353.4) rotate(-45)" >TL-Mor</text>
<text font-size="6.6" fill="#1f1f1f" stroke="#1f1f1f" stroke-width="0.16" transform="translate(402.6,353.4) rotate(-45)" >MT-2</text>
<g filter="url(#b1)">
<rect x="309.30" y="376.50" width="12.6" height="4.4" rx="2.20" ry="2.20" fill="#0a0a0a"/>
<rect x="325.50" y="377.10" width="10.4" height="3.2" rx="1.60" ry="1.60" fill="#0a0a0a"/>
<rect x="339.70" y="376.50" width="12.2" height="4.4" rx="2.20" ry="2.20" fill="#0a0a0a"/>
<rect x="354.90" y="376.60" width="12.0" height="4.2" rx="2.10" ry="2.10" fill="#0a0a0a"/>
<rect x="370.40" y="376.80" width="11.2" height="3.8" rx="1.90" ry="1.90" fill="#0a0a0a"/>
<rect x="385.10" y="376.80" width="12.0" height="3.8" rx="1.90" ry="1.90" fill="#0a0a0a"/>
<rect x="399.60" y="376.60" width="12.8" height="4.2" rx="2.10" ry="2.10" fill="#0a0a0a"/>
</g>
<clipPath id="blotclip"><rect x="308.3" y="355.5" width="105.2" height="13"/></clipPath>
<g clip-path="url(#blotclip)"><g filter="url(#b2)">
<ellipse cx="331.5" cy="362.5" rx="4.0" ry="2.8" fill="#c4c4ca" opacity="0.8"/>
<ellipse cx="375.8" cy="362.6" rx="3.6" ry="1.9" fill="#a4a4ac" opacity="0.85"/>
<ellipse cx="391.5" cy="362.0" rx="5.2" ry="3.3" fill="#8c8c94" opacity="0.85"/>
<ellipse cx="406.2" cy="361.8" rx="7.6" ry="6.2" fill="#555" opacity="0.6"/>
</g></g>
<rect x="399.6" y="356.3" width="13.0" height="11.2" rx="3.8" ry="3.8" fill="#000" filter="url(#b1)"/>
</g>
<g id="panelF">
<text x="226.8" y="409.3" font-size="11.6" fill="#000" font-weight="bold" stroke="#000" stroke-width="0.3">F</text>
<text x="373.2" y="412.66" font-size="6.3" fill="#1f1f1f" text-anchor="middle" stroke="#1f1f1f" stroke-width="0.16" >shore</text>
<text x="447.5" y="412.56" font-size="6.6" fill="#1f1f1f" text-anchor="middle" stroke="#1f1f1f" stroke-width="0.16" >CpG island</text>
<rect x="412" y="417" width="71.3" height="4.4" fill="#3fb03c" />
<text x="237.5" y="433.16" font-size="6.6" fill="#1b1b1b" text-anchor="middle" stroke="#1b1b1b" stroke-width="0.16" >−3,000</text>
<text x="338.8" y="433.16" font-size="6.6" fill="#1b1b1b" text-anchor="middle" stroke="#1b1b1b" stroke-width="0.16" >−1,500</text>
<text x="441.2" y="433.16" font-size="6.6" fill="#1b1b1b" text-anchor="middle" stroke="#1b1b1b" stroke-width="0.16" >−200</text>
<text x="476.2" y="428.53" font-size="6.8" fill="#161616" text-anchor="middle" stroke="#161616" stroke-width="0.16" >TSS</text>
<line x1="225.5" y1="442.6" x2="468.8" y2="442.6" stroke="#3c3c3c" stroke-width="1.5" />
<line x1="237.5" y1="437.6" x2="237.5" y2="447.8" stroke="#333" stroke-width="1.1" />
<line x1="338.8" y1="437.6" x2="338.8" y2="447.8" stroke="#333" stroke-width="1.1" />
<line x1="440.5" y1="437.6" x2="440.5" y2="447.8" stroke="#333" stroke-width="1.1" />
<line x1="468.8" y1="432.9" x2="468.8" y2="448.3" stroke="#111" stroke-width="1.1" />
<line x1="468.3" y1="433.4" x2="479" y2="433.4" stroke="#111" stroke-width="1.1" />
<path d="M477.2 430.6 L482.6 433.4 L477.2 436.2 Z" fill="#111"/>
<line x1="468.8" y1="439.8" x2="480.5" y2="439.8" stroke="#111" stroke-width="1.0" />
<line x1="468.8" y1="447.8" x2="480.5" y2="447.8" stroke="#111" stroke-width="1.0" />
<rect x="239.3" y="445.7" width="4.200000000000012" height="2.1" fill="#1d4f8f" />
<rect x="299.3" y="445.7" width="4.200000000000012" height="2.1" fill="#1d4f8f" />
<rect x="304.8" y="445.7" width="4.200000000000012" height="2.1" fill="#1d4f8f" />
<rect x="310.3" y="445.7" width="4.200000000000012" height="2.1" fill="#1d4f8f" />
<rect x="345.40000000000003" y="445.7" width="4.799999999999978" height="2.1" fill="#1d4f8f" />
<rect x="366.8" y="445.7" width="4.700000000000012" height="2.1" fill="#1d4f8f" />
<rect x="382.8" y="445.7" width="4.9" height="2.1" fill="#1d4f8f" />
<rect x="414.8" y="445.7" width="4.9" height="2.1" fill="#1d4f8f" />
<rect x="426.8" y="445.7" width="4.700000000000012" height="2.1" fill="#1d4f8f" />
<rect x="451.6" y="445.7" width="4.4" height="2.1" fill="#1d4f8f" />
<circle cx="374.50" cy="439.70" r="1.1" fill="#c8102e" />
<circle cx="379.30" cy="439.70" r="1.1" fill="#c8102e" />
<circle cx="458.00" cy="439.70" r="1.1" fill="#c8102e" />
<rect x="465.6" y="438.7" width="2.8" height="2.1" fill="#c8102e" />
<circle cx="261.30" cy="467.00" r="1.0" fill="#c8102e" />
<text x="267" y="469.22" font-size="6.2" fill="#1b1b1b" textLength="88" lengthAdjust="spacingAndGlyphs" stroke="#1b1b1b" stroke-width="0.16" >analyzed CpG site (GSE136189)</text>
<rect x="364.8" y="466.0" width="4.2" height="2.1" fill="#1d4f8f" />
<text x="372.5" y="469.22" font-size="6.2" fill="#1b1b1b" textLength="76.3" lengthAdjust="spacingAndGlyphs" stroke="#1b1b1b" stroke-width="0.16" >analyzed region (GSE71450)</text>
</g>
<g id="panelG">
<text x="0.3" y="496.8" font-size="11.6" fill="#000" font-weight="bold" stroke="#000" stroke-width="0.3">G</text>
<text x="93" y="497.64" font-size="8.5" fill="#161616" textLength="148.8" lengthAdjust="spacingAndGlyphs" stroke="#161616" stroke-width="0.16" >C<tspan font-style="italic">p</tspan>G site in TSS1500-shore of DUSP5</text>
<line x1="43.8" y1="503" x2="43.8" y2="654.4" stroke="#303030" stroke-width="1.4" />
<line x1="43.1" y1="653.7" x2="289" y2="653.7" stroke="#303030" stroke-width="1.4" />
<line x1="41" y1="653.6" x2="43.8" y2="653.6" stroke="#2a2a2a" stroke-width="0.9" />
<text x="37.6" y="655.89" font-size="6.4" fill="#1f1f1f" text-anchor="end" stroke="#1f1f1f" stroke-width="0.16" >0.0</text>
<line x1="41" y1="624.15" x2="43.8" y2="624.15" stroke="#2a2a2a" stroke-width="0.9" />
<text x="37.6" y="626.44" font-size="6.4" fill="#1f1f1f" text-anchor="end" stroke="#1f1f1f" stroke-width="0.16" >0.2</text>
<line x1="41" y1="594.7" x2="43.8" y2="594.7" stroke="#2a2a2a" stroke-width="0.9" />
<text x="37.6" y="596.99" font-size="6.4" fill="#1f1f1f" text-anchor="end" stroke="#1f1f1f" stroke-width="0.16" >0.4</text>
<line x1="41" y1="565.25" x2="43.8" y2="565.25" stroke="#2a2a2a" stroke-width="0.9" />
<text x="37.6" y="567.54" font-size="6.4" fill="#1f1f1f" text-anchor="end" stroke="#1f1f1f" stroke-width="0.16" >0.6</text>
<line x1="41" y1="535.8000000000001" x2="43.8" y2="535.8000000000001" stroke="#2a2a2a" stroke-width="0.9" />
<text x="37.6" y="538.09" font-size="6.4" fill="#1f1f1f" text-anchor="end" stroke="#1f1f1f" stroke-width="0.16" >0.8</text>
<line x1="41" y1="506.35" x2="43.8" y2="506.35" stroke="#2a2a2a" stroke-width="0.9" />
<text x="37.6" y="508.64" font-size="6.4" fill="#1f1f1f" text-anchor="end" stroke="#1f1f1f" stroke-width="0.16" >1.0</text>
<text font-size="7.7" fill="#1a1a1a" textLength="62.5" lengthAdjust="spacingAndGlyphs" transform="translate(23.2,609.5) rotate(-90)" stroke="#1a1a1a" stroke-width="0.15">β-value of cg15667844</text>
<rect x="46.05" y="595.88" width="1.9" height="57.72" fill="#1b4076" />
<line x1="47.0" y1="653.7" x2="47.0" y2="656.3" stroke="#2a2a2a" stroke-width="0.8" />
<text font-size="5.0" fill="#0a0a0a" text-anchor="end" stroke="#0a0a0a" stroke-width="0.16" transform="translate(48.75,659.6) rotate(-90)" >N1</text>
<rect x="52.37" y="582.92" width="1.9" height="70.68" fill="#1b4076" />
<line x1="53.32" y1="653.7" x2="53.32" y2="656.3" stroke="#2a2a2a" stroke-width="0.8" />
<text font-size="5.0" fill="#0a0a0a" text-anchor="end" stroke="#0a0a0a" stroke-width="0.16" transform="translate(55.07,659.6) rotate(-90)" >N2</text>
<rect x="58.7" y="590.28" width="1.9" height="63.32" fill="#1b4076" />
<line x1="59.65" y1="653.7" x2="59.65" y2="656.3" stroke="#2a2a2a" stroke-width="0.8" />
<text font-size="5.0" fill="#0a0a0a" text-anchor="end" stroke="#0a0a0a" stroke-width="0.16" transform="translate(61.4,659.6) rotate(-90)" >N3</text>
<rect x="65.02" y="593.23" width="1.9" height="60.37" fill="#1b4076" />
<line x1="65.97" y1="653.7" x2="65.97" y2="656.3" stroke="#2a2a2a" stroke-width="0.8" />
<text font-size="5.0" fill="#0a0a0a" text-anchor="end" stroke="#0a0a0a" stroke-width="0.16" transform="translate(67.72,659.6) rotate(-90)" >AC1</text>
<rect x="71.34" y="597.06" width="1.9" height="56.54" fill="#1b4076" />
<line x1="72.29" y1="653.7" x2="72.29" y2="656.3" stroke="#2a2a2a" stroke-width="0.8" />
<text font-size="5.0" fill="#0a0a0a" text-anchor="end" stroke="#0a0a0a" stroke-width="0.16" transform="translate(74.04,659.6) rotate(-90)" >AC2</text>
<rect x="77.67" y="568.2" width="1.9" height="85.41" fill="#1b4076" />
<line x1="78.62" y1="653.7" x2="78.62" y2="656.3" stroke="#2a2a2a" stroke-width="0.8" />
<text font-size="5.0" fill="#0a0a0a" text-anchor="end" stroke="#0a0a0a" stroke-width="0.16" transform="translate(80.37,659.6) rotate(-90)" >AC3</text>
<rect x="83.99" y="592.64" width="1.9" height="60.96" fill="#1b4076" />
<line x1="84.94" y1="653.7" x2="84.94" y2="656.3" stroke="#2a2a2a" stroke-width="0.8" />
<text font-size="5.0" fill="#0a0a0a" text-anchor="end" stroke="#0a0a0a" stroke-width="0.16" transform="translate(86.69,659.6) rotate(-90)" >S1</text>
<rect x="90.31" y="570.55" width="1.9" height="83.05" fill="#1b4076" />
<line x1="91.26" y1="653.7" x2="91.26" y2="656.3" stroke="#2a2a2a" stroke-width="0.8" />
<text font-size="5.0" fill="#0a0a0a" text-anchor="end" stroke="#0a0a0a" stroke-width="0.16" transform="translate(93.01,659.6) rotate(-90)" >S2</text>
<rect x="96.63" y="581.15" width="1.9" height="72.45" fill="#1b4076" />
<line x1="97.58" y1="653.7" x2="97.58" y2="656.3" stroke="#2a2a2a" stroke-width="0.8" />
<text font-size="5.0" fill="#0a0a0a" text-anchor="end" stroke="#0a0a0a" stroke-width="0.16" transform="translate(99.33,659.6) rotate(-90)" >S3</text>
<rect x="102.96" y="585.87" width="1.9" height="67.73" fill="#1b4076" />
<line x1="103.91" y1="653.7" x2="103.91" y2="656.3" stroke="#2a2a2a" stroke-width="0.8" />
<text font-size="5.0" fill="#0a0a0a" text-anchor="end" stroke="#0a0a0a" stroke-width="0.16" transform="translate(105.66,659.6) rotate(-90)" >C1</text>
<rect x="109.28" y="579.98" width="1.9" height="73.62" fill="#1b4076" />
<line x1="110.23" y1="653.7" x2="110.23" y2="656.3" stroke="#2a2a2a" stroke-width="0.8" />
<text font-size="5.0" fill="#0a0a0a" text-anchor="end" stroke="#0a0a0a" stroke-width="0.16" transform="translate(111.98,659.6) rotate(-90)" >C2</text>
<rect x="115.6" y="569.08" width="1.9" height="84.52" fill="#1b4076" />
<line x1="116.55" y1="653.7" x2="116.55" y2="656.3" stroke="#2a2a2a" stroke-width="0.8" />
<text font-size="5.0" fill="#0a0a0a" text-anchor="end" stroke="#0a0a0a" stroke-width="0.16" transform="translate(118.3,659.6) rotate(-90)" >C3</text>
<rect x="121.93" y="583.07" width="1.9" height="70.53" fill="#1b4076" />
<line x1="122.88" y1="653.7" x2="122.88" y2="656.3" stroke="#2a2a2a" stroke-width="0.8" />
<text font-size="5.0" fill="#0a0a0a" text-anchor="end" stroke="#0a0a0a" stroke-width="0.16" transform="translate(124.63,659.6) rotate(-90)" >C4</text>
<rect x="128.25" y="587.63" width="1.9" height="65.97" fill="#f5bf2c" />
<line x1="129.2" y1="653.7" x2="129.2" y2="656.3" stroke="#2a2a2a" stroke-width="0.8" />
<text font-size="5.0" fill="#0a0a0a" text-anchor="end" stroke="#0a0a0a" stroke-width="0.16" transform="translate(130.95,659.6) rotate(-90)" >AC1</text>
<rect x="134.57" y="572.17" width="1.9" height="81.43" fill="#f5bf2c" />
<line x1="135.52" y1="653.7" x2="135.52" y2="656.3" stroke="#2a2a2a" stroke-width="0.8" />
<text font-size="5.0" fill="#0a0a0a" text-anchor="end" stroke="#0a0a0a" stroke-width="0.16" transform="translate(137.27,659.6) rotate(-90)" >AC3</text>
<rect x="140.9" y="586.9" width="1.9" height="66.7" fill="#f5bf2c" />
<line x1="141.84" y1="653.7" x2="141.84" y2="656.3" stroke="#2a2a2a" stroke-width="0.8" />
<text font-size="5.0" fill="#0a0a0a" text-anchor="end" stroke="#0a0a0a" stroke-width="0.16" transform="translate(143.59,659.6) rotate(-90)" >S1</text>
<rect x="147.22" y="559.36" width="1.9" height="94.24" fill="#f5bf2c" />
<line x1="148.17" y1="653.7" x2="148.17" y2="656.3" stroke="#2a2a2a" stroke-width="0.8" />
<text font-size="5.0" fill="#0a0a0a" text-anchor="end" stroke="#0a0a0a" stroke-width="0.16" transform="translate(149.92,659.6) rotate(-90)" >S2</text>
<rect x="153.54" y="557.59" width="1.9" height="96.01" fill="#f5bf2c" />
<line x1="154.49" y1="653.7" x2="154.49" y2="656.3" stroke="#2a2a2a" stroke-width="0.8" />
<text font-size="5.0" fill="#0a0a0a" text-anchor="end" stroke="#0a0a0a" stroke-width="0.16" transform="translate(156.24,659.6) rotate(-90)" >S3</text>
<rect x="159.86" y="517.54" width="1.9" height="136.06" fill="#f5bf2c" />
<line x1="160.81" y1="653.7" x2="160.81" y2="656.3" stroke="#2a2a2a" stroke-width="0.8" />
<text font-size="5.0" fill="#0a0a0a" text-anchor="end" stroke="#0a0a0a" stroke-width="0.16" transform="translate(162.56,659.6) rotate(-90)" >C1</text>
<rect x="166.19" y="539.33" width="1.9" height="114.27" fill="#f5bf2c" />
<line x1="167.14" y1="653.7" x2="167.14" y2="656.3" stroke="#2a2a2a" stroke-width="0.8" />
<text font-size="5.0" fill="#0a0a0a" text-anchor="end" stroke="#0a0a0a" stroke-width="0.16" transform="translate(168.89,659.6) rotate(-90)" >C3</text>
<rect x="172.51" y="616.35" width="1.9" height="37.25" fill="#f5bf2c" />
<line x1="173.46" y1="653.7" x2="173.46" y2="656.3" stroke="#2a2a2a" stroke-width="0.8" />
<text font-size="5.0" fill="#0a0a0a" text-anchor="end" stroke="#0a0a0a" stroke-width="0.16" transform="translate(175.21,659.6) rotate(-90)" >C4</text>
<rect x="178.83" y="591.9" width="1.9" height="61.7" fill="#c3142d" />
<line x1="179.78" y1="653.7" x2="179.78" y2="656.3" stroke="#2a2a2a" stroke-width="0.8" />
<text font-size="5.0" fill="#0a0a0a" text-anchor="end" stroke="#0a0a0a" stroke-width="0.16" transform="translate(181.53,659.6) rotate(-90)" >AC1</text>
<rect x="185.16" y="535.06" width="1.9" height="118.54" fill="#c3142d" />
<line x1="186.11" y1="653.7" x2="186.11" y2="656.3" stroke="#2a2a2a" stroke-width="0.8" />
<text font-size="5.0" fill="#0a0a0a" text-anchor="end" stroke="#0a0a0a" stroke-width="0.16" transform="translate(187.86,659.6) rotate(-90)" >AC2</text>
<rect x="191.48" y="528.14" width="1.9" height="125.46" fill="#c3142d" />
<line x1="192.43" y1="653.7" x2="192.43" y2="656.3" stroke="#2a2a2a" stroke-width="0.8" />
<text font-size="5.0" fill="#0a0a0a" text-anchor="end" stroke="#0a0a0a" stroke-width="0.16" transform="translate(194.18,659.6) rotate(-90)" >AC3</text>
<rect x="197.8" y="580.56" width="1.9" height="73.04" fill="#c3142d" />
<line x1="198.75" y1="653.7" x2="198.75" y2="656.3" stroke="#2a2a2a" stroke-width="0.8" />
<text font-size="5.0" fill="#0a0a0a" text-anchor="end" stroke="#0a0a0a" stroke-width="0.16" transform="translate(200.5,659.6) rotate(-90)" >S1</text>
<rect x="204.13" y="522.11" width="1.9" height="131.49" fill="#c3142d" />
<line x1="205.08" y1="653.7" x2="205.08" y2="656.3" stroke="#2a2a2a" stroke-width="0.8" />
<text font-size="5.0" fill="#0a0a0a" text-anchor="end" stroke="#0a0a0a" stroke-width="0.16" transform="translate(206.83,659.6) rotate(-90)" >S2</text>
<rect x="210.45" y="589.4" width="1.9" height="64.2" fill="#c3142d" />
<line x1="211.4" y1="653.7" x2="211.4" y2="656.3" stroke="#2a2a2a" stroke-width="0.8" />
<text font-size="5.0" fill="#0a0a0a" text-anchor="end" stroke="#0a0a0a" stroke-width="0.16" transform="translate(213.15,659.6) rotate(-90)" >S3</text>
<rect x="216.77" y="514.3" width="1.9" height="139.3" fill="#c3142d" />
<line x1="217.72" y1="653.7" x2="217.72" y2="656.3" stroke="#2a2a2a" stroke-width="0.8" />
<text font-size="5.0" fill="#0a0a0a" text-anchor="end" stroke="#0a0a0a" stroke-width="0.16" transform="translate(219.47,659.6) rotate(-90)" >C1</text>
<rect x="223.09" y="513.42" width="1.9" height="140.18" fill="#c3142d" />
<line x1="224.04" y1="653.7" x2="224.04" y2="656.3" stroke="#2a2a2a" stroke-width="0.8" />
<text font-size="5.0" fill="#0a0a0a" text-anchor="end" stroke="#0a0a0a" stroke-width="0.16" transform="translate(225.79,659.6) rotate(-90)" >C2</text>
<rect x="229.42" y="546.4" width="1.9" height="107.2" fill="#c3142d" />
<line x1="230.37" y1="653.7" x2="230.37" y2="656.3" stroke="#2a2a2a" stroke-width="0.8" />
<text font-size="5.0" fill="#0a0a0a" text-anchor="end" stroke="#0a0a0a" stroke-width="0.16" transform="translate(232.12,659.6) rotate(-90)" >C3</text>
<rect x="235.74" y="538.89" width="1.9" height="114.71" fill="#c3142d" />
<line x1="236.69" y1="653.7" x2="236.69" y2="656.3" stroke="#2a2a2a" stroke-width="0.8" />
<text font-size="5.0" fill="#0a0a0a" text-anchor="end" stroke="#0a0a0a" stroke-width="0.16" transform="translate(238.44,659.6) rotate(-90)" >C4</text>
<rect x="242.06" y="512.09" width="1.9" height="141.51" fill="#c3142d" />
<line x1="243.01" y1="653.7" x2="243.01" y2="656.3" stroke="#2a2a2a" stroke-width="0.8" />
<text font-size="5.0" fill="#0a0a0a" text-anchor="end" stroke="#0a0a0a" stroke-width="0.16" transform="translate(244.76,659.6) rotate(-90)" >A1</text>
<rect x="248.39" y="513.42" width="1.9" height="140.18" fill="#c3142d" />
<line x1="249.34" y1="653.7" x2="249.34" y2="656.3" stroke="#2a2a2a" stroke-width="0.8" />
<text font-size="5.0" fill="#0a0a0a" text-anchor="end" stroke="#0a0a0a" stroke-width="0.16" transform="translate(251.09,659.6) rotate(-90)" >A2</text>
<rect x="254.71" y="641.82" width="1.9" height="11.78" fill="#c3142d" />
<line x1="255.66" y1="653.7" x2="255.66" y2="656.3" stroke="#2a2a2a" stroke-width="0.8" />
<text font-size="5.0" fill="#0a0a0a" text-anchor="end" stroke="#0a0a0a" stroke-width="0.16" transform="translate(257.41,659.6) rotate(-90)" >A3</text>
<rect x="261.03" y="521.37" width="1.9" height="132.23" fill="#c3142d" />
<line x1="261.98" y1="653.7" x2="261.98" y2="656.3" stroke="#2a2a2a" stroke-width="0.8" />
<text font-size="5.0" fill="#0a0a0a" text-anchor="end" stroke="#0a0a0a" stroke-width="0.16" transform="translate(263.73,659.6) rotate(-90)" >MT-2</text>
<rect x="267.36" y="519.6" width="1.9" height="134.0" fill="#c3142d" />
<line x1="268.31" y1="653.7" x2="268.31" y2="656.3" stroke="#2a2a2a" stroke-width="0.8" />
<text font-size="5.0" fill="#0a0a0a" text-anchor="end" stroke="#0a0a0a" stroke-width="0.16" transform="translate(270.06,659.6) rotate(-90)" >ATN-1</text>
<rect x="273.68" y="525.64" width="1.9" height="127.96" fill="#c3142d" />
<line x1="274.63" y1="653.7" x2="274.63" y2="656.3" stroke="#2a2a2a" stroke-width="0.8" />
<text font-size="5.0" fill="#0a0a0a" text-anchor="end" stroke="#0a0a0a" stroke-width="0.16" transform="translate(276.38,659.6) rotate(-90)" >ST-1</text>
<rect x="280.0" y="533.89" width="1.9" height="119.71" fill="#c3142d" />
<line x1="280.95" y1="653.7" x2="280.95" y2="656.3" stroke="#2a2a2a" stroke-width="0.8" />
<text font-size="5.0" fill="#0a0a0a" text-anchor="end" stroke="#0a0a0a" stroke-width="0.16" transform="translate(282.7,659.6) rotate(-90)" >KOB</text>
<rect x="286.32" y="653.01" width="1.9" height="0.59" fill="#c3142d" />
<line x1="287.27" y1="653.7" x2="287.27" y2="656.3" stroke="#2a2a2a" stroke-width="0.8" />
<text font-size="5.0" fill="#0a0a0a" text-anchor="end" stroke="#0a0a0a" stroke-width="0.16" transform="translate(289.02,659.6) rotate(-90)" >KK-1</text>
<line x1="43" y1="680.5" x2="123" y2="680.5" stroke="#333" stroke-width="0.9" />
<line x1="125" y1="680.5" x2="258" y2="680.5" stroke="#333" stroke-width="0.9" />
<line x1="261.3" y1="680.5" x2="291.3" y2="680.5" stroke="#333" stroke-width="0.9" />
<text x="83" y="689.14" font-size="8.2" fill="#1a1a1a" text-anchor="middle" textLength="3.6" lengthAdjust="spacingAndGlyphs" stroke="#1a1a1a" stroke-width="0.22">P</text>
<text x="83.8" y="698.94" font-size="8.2" fill="#1a1a1a" text-anchor="middle" textLength="40" lengthAdjust="spacingAndGlyphs" stroke="#1a1a1a" stroke-width="0.22">(normal enriched</text>
<text x="83.5" y="708.34" font-size="8.2" fill="#1a1a1a" text-anchor="middle" textLength="32" lengthAdjust="spacingAndGlyphs" stroke="#1a1a1a" stroke-width="0.22">T cell subset)</text>
<text x="192" y="689.14" font-size="8.2" fill="#1a1a1a" text-anchor="middle" textLength="11.5" lengthAdjust="spacingAndGlyphs" stroke="#1a1a1a" stroke-width="0.22">D , N</text>
<text x="192" y="698.94" font-size="8.2" fill="#1a1a1a" text-anchor="middle" textLength="38.5" lengthAdjust="spacingAndGlyphs" stroke="#1a1a1a" stroke-width="0.22">(tumor enriched</text>
<text x="191.8" y="708.34" font-size="8.2" fill="#1a1a1a" text-anchor="middle" textLength="32" lengthAdjust="spacingAndGlyphs" stroke="#1a1a1a" stroke-width="0.22">T cell subset)</text>
<text x="276" y="689.14" font-size="8.2" fill="#1a1a1a" text-anchor="middle" textLength="18" lengthAdjust="spacingAndGlyphs" stroke="#1a1a1a" stroke-width="0.22">Cell line</text>
</g>
<g id="panelH">
<text x="317.2" y="496.9" font-size="11.6" fill="#000" font-weight="bold" stroke="#000" stroke-width="0.3">H</text>
<text x="376.2" y="494.46" font-size="6.3" fill="#1f1f1f" text-anchor="middle" stroke="#1f1f1f" stroke-width="0.16" >distance</text>
<text x="376.2" y="506.06" font-size="6.3" fill="#1f1f1f" text-anchor="middle" textLength="57.5" lengthAdjust="spacingAndGlyphs" stroke="#1f1f1f" stroke-width="0.16" >from TSS in DUSP5</text>
<text x="325.8" y="516.56" font-size="6.3" fill="#1f1f1f" stroke="#1f1f1f" stroke-width="0.16" >Loss</text>
<text x="506.3" y="516.16" font-size="6.3" fill="#1f1f1f" stroke="#1f1f1f" stroke-width="0.16" >Gain</text>
<line x1="392" y1="510.5" x2="392" y2="653.9" stroke="#444" stroke-width="1.5" />
<line x1="326.3" y1="653.2" x2="520" y2="653.2" stroke="#303030" stroke-width="1.4" />
<rect x="392.6" y="515.2" width="42.01" height="4.6" fill="#c8c8c8" />
<text x="388.8" y="519.93" font-size="6.8" fill="#1b1b1b" text-anchor="end" stroke="#1b1b1b" stroke-width="0.16" >−2990</text>
<line x1="390.4" y1="517.5" x2="392" y2="517.5" stroke="#333" stroke-width="0.7" />
<rect x="392.6" y="529.48" width="9.61" height="4.6" fill="#c8c8c8" />
<text x="388.8" y="534.21" font-size="6.8" fill="#1b1b1b" text-anchor="end" stroke="#1b1b1b" stroke-width="0.16" >−2016</text>
<line x1="390.4" y1="531.78" x2="392" y2="531.78" stroke="#333" stroke-width="0.7" />
<rect x="350.17" y="543.76" width="41.23" height="4.6" fill="#c8c8c8" />
<text x="347.6" y="548.49" font-size="6.8" fill="#1b1b1b" text-anchor="end" stroke="#1b1b1b" stroke-width="0.16" >−1890</text>
<line x1="392" y1="546.06" x2="393.6" y2="546.06" stroke="#333" stroke-width="0.7" />
<rect x="392.6" y="558.04" width="75.02" height="4.6" fill="#c8c8c8" />
<text x="388.8" y="562.77" font-size="6.8" fill="#1b1b1b" text-anchor="end" stroke="#1b1b1b" stroke-width="0.16" >−1766</text>
<line x1="390.4" y1="560.34" x2="392" y2="560.34" stroke="#333" stroke-width="0.7" />
<rect x="392.6" y="572.32" width="58.9" height="4.6" fill="#c8c8c8" />
<text x="388.8" y="577.05" font-size="6.8" fill="#1b1b1b" text-anchor="end" stroke="#1b1b1b" stroke-width="0.16" >−1370</text>
<line x1="390.4" y1="574.62" x2="392" y2="574.62" stroke="#333" stroke-width="0.7" />
<rect x="392.6" y="586.6" width="9.61" height="4.6" fill="#c8c8c8" />
<text x="388.8" y="591.33" font-size="6.8" fill="#1b1b1b" text-anchor="end" stroke="#1b1b1b" stroke-width="0.16" >−1155</text>
<line x1="390.4" y1="588.9" x2="392" y2="588.9" stroke="#333" stroke-width="0.7" />
<rect x="392.6" y="600.88" width="96.1" height="4.6" fill="#c8c8c8" />
<text x="388.8" y="605.61" font-size="6.8" fill="#1b1b1b" text-anchor="end" stroke="#1b1b1b" stroke-width="0.16" >−718</text>
<line x1="390.4" y1="603.18" x2="392" y2="603.18" stroke="#333" stroke-width="0.7" />
<rect x="392.6" y="615.16" width="10.85" height="4.6" fill="#c8c8c8" />
<text x="388.8" y="619.89" font-size="6.8" fill="#1b1b1b" text-anchor="end" stroke="#1b1b1b" stroke-width="0.16" >−432</text>
<line x1="390.4" y1="617.46" x2="392" y2="617.46" stroke="#333" stroke-width="0.7" />
<rect x="392.6" y="629.44" width="15.5" height="4.6" fill="#c8c8c8" />
<text x="388.8" y="634.17" font-size="6.8" fill="#1b1b1b" text-anchor="end" stroke="#1b1b1b" stroke-width="0.16" >−316</text>
<line x1="390.4" y1="631.74" x2="392" y2="631.74" stroke="#333" stroke-width="0.7" />
<rect x="378.07" y="643.72" width="13.33" height="4.6" fill="#c8c8c8" />
<text x="375" y="648.45" font-size="6.8" fill="#1b1b1b" text-anchor="end" stroke="#1b1b1b" stroke-width="0.16" >−146</text>
<line x1="392" y1="646.02" x2="393.6" y2="646.02" stroke="#333" stroke-width="0.7" />
<line x1="330.0" y1="653.2" x2="330.0" y2="656.4" stroke="#2a2a2a" stroke-width="0.9" />
<text x="330.0" y="666.23" font-size="6.8" fill="#1b1b1b" text-anchor="middle" stroke="#1b1b1b" stroke-width="0.16" >−2</text>
<line x1="360.96" y1="653.2" x2="360.96" y2="656.4" stroke="#2a2a2a" stroke-width="0.9" />
<text x="360.96" y="666.23" font-size="6.8" fill="#1b1b1b" text-anchor="middle" stroke="#1b1b1b" stroke-width="0.16" >−1</text>
<line x1="391.92" y1="653.2" x2="391.92" y2="656.4" stroke="#2a2a2a" stroke-width="0.9" />
<text x="391.92" y="666.23" font-size="6.8" fill="#1b1b1b" text-anchor="middle" stroke="#1b1b1b" stroke-width="0.16" >0</text>
<line x1="422.88" y1="653.2" x2="422.88" y2="656.4" stroke="#2a2a2a" stroke-width="0.9" />
<text x="422.88" y="666.23" font-size="6.8" fill="#1b1b1b" text-anchor="middle" stroke="#1b1b1b" stroke-width="0.16" >1</text>
<line x1="453.84" y1="653.2" x2="453.84" y2="656.4" stroke="#2a2a2a" stroke-width="0.9" />
<text x="453.84" y="666.23" font-size="6.8" fill="#1b1b1b" text-anchor="middle" stroke="#1b1b1b" stroke-width="0.16" >2</text>
<line x1="484.8" y1="653.2" x2="484.8" y2="656.4" stroke="#2a2a2a" stroke-width="0.9" />
<text x="484.8" y="666.23" font-size="6.8" fill="#1b1b1b" text-anchor="middle" stroke="#1b1b1b" stroke-width="0.16" >3</text>
<line x1="515.76" y1="653.2" x2="515.76" y2="656.4" stroke="#2a2a2a" stroke-width="0.9" />
<text x="515.76" y="666.23" font-size="6.8" fill="#1b1b1b" text-anchor="middle" stroke="#1b1b1b" stroke-width="0.16" >4</text>
<text x="422" y="678.48" font-size="8.6" fill="#1a1a1a" text-anchor="middle" textLength="68.8" lengthAdjust="spacingAndGlyphs" stroke="#1a1a1a" stroke-width="0.22">H3K27me3 change (log2)</text>
<text x="423" y="688.08" font-size="8.6" fill="#1a1a1a" text-anchor="middle" textLength="38.2" lengthAdjust="spacingAndGlyphs" stroke="#1a1a1a" stroke-width="0.22">ATL vs normal</text>
</g>
</svg>
</body></html>
